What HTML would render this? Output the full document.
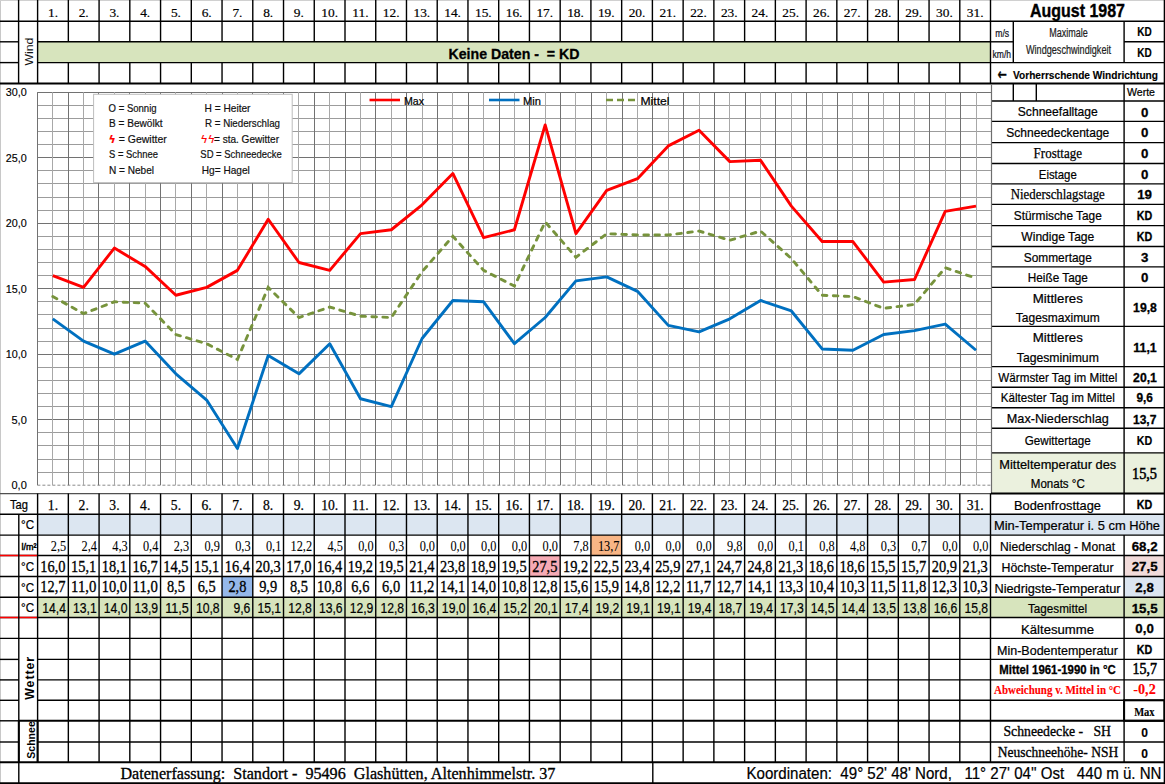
<!DOCTYPE html>
<html><head><meta charset="utf-8"><title>August 1987</title>
<style>html,body{margin:0;padding:0;background:#fff;}svg{display:block;}</style></head>
<body><svg width="1165" height="784" viewBox="0 0 1165 784">
<rect width="1165" height="784" fill="#fff"/>
<rect x="37.6" y="41.8" width="952.9" height="20.8" fill="#d7e4bd"/>
<rect x="37.6" y="514.2" width="952.94" height="20.9" fill="#dce6f1"/>
<rect x="990.5" y="514.2" width="173.9" height="20.9" fill="#dce6f1"/>
<rect x="37.6" y="597.3" width="1126.8" height="20.2" fill="#d7e4bd"/>
<rect x="590.92" y="535.1" width="30.74" height="20.4" fill="#f8b585"/>
<rect x="529.44" y="555.5" width="30.74" height="21" fill="#f6abb5"/>
<rect x="222.04" y="576.5" width="30.74" height="20.8" fill="#95b8ea"/>
<rect x="1124.1" y="555.5" width="40.3" height="21" fill="#f2dcdb"/>
<rect x="1124.1" y="576.5" width="40.3" height="20.8" fill="#dce6f1"/>
<rect x="991.5" y="452.9" width="172.9" height="40.5" fill="#ebf1de"/>
<line x1="37.4" y1="485.2" x2="991.4" y2="485.2" stroke="#8a8a8a" stroke-width="1" stroke-dasharray="3,2"/>
<line x1="37.4" y1="472.5" x2="991.4" y2="472.5" stroke="#9c9c9c" stroke-width="1.0"/>
<line x1="37.4" y1="459.5" x2="991.4" y2="459.5" stroke="#9c9c9c" stroke-width="1.0"/>
<line x1="37.4" y1="445.5" x2="991.4" y2="445.5" stroke="#9c9c9c" stroke-width="1.0"/>
<line x1="37.4" y1="432.5" x2="991.4" y2="432.5" stroke="#9c9c9c" stroke-width="1.0"/>
<line x1="37.4" y1="419.5" x2="991.4" y2="419.5" stroke="#727272" stroke-width="1.0"/>
<line x1="37.4" y1="406.5" x2="991.4" y2="406.5" stroke="#9c9c9c" stroke-width="1.0"/>
<line x1="37.4" y1="393.5" x2="991.4" y2="393.5" stroke="#9c9c9c" stroke-width="1.0"/>
<line x1="37.4" y1="380.5" x2="991.4" y2="380.5" stroke="#9c9c9c" stroke-width="1.0"/>
<line x1="37.4" y1="367.5" x2="991.4" y2="367.5" stroke="#9c9c9c" stroke-width="1.0"/>
<line x1="37.4" y1="354.5" x2="991.4" y2="354.5" stroke="#727272" stroke-width="1.0"/>
<line x1="37.4" y1="341.5" x2="991.4" y2="341.5" stroke="#9c9c9c" stroke-width="1.0"/>
<line x1="37.4" y1="328.5" x2="991.4" y2="328.5" stroke="#9c9c9c" stroke-width="1.0"/>
<line x1="37.4" y1="314.5" x2="991.4" y2="314.5" stroke="#9c9c9c" stroke-width="1.0"/>
<line x1="37.4" y1="301.5" x2="991.4" y2="301.5" stroke="#9c9c9c" stroke-width="1.0"/>
<line x1="37.4" y1="288.5" x2="991.4" y2="288.5" stroke="#727272" stroke-width="1.0"/>
<line x1="37.4" y1="275.5" x2="991.4" y2="275.5" stroke="#9c9c9c" stroke-width="1.0"/>
<line x1="37.4" y1="262.5" x2="991.4" y2="262.5" stroke="#9c9c9c" stroke-width="1.0"/>
<line x1="37.4" y1="249.5" x2="991.4" y2="249.5" stroke="#9c9c9c" stroke-width="1.0"/>
<line x1="37.4" y1="236.5" x2="991.4" y2="236.5" stroke="#9c9c9c" stroke-width="1.0"/>
<line x1="37.4" y1="223.5" x2="991.4" y2="223.5" stroke="#727272" stroke-width="1.0"/>
<line x1="37.4" y1="210.5" x2="991.4" y2="210.5" stroke="#9c9c9c" stroke-width="1.0"/>
<line x1="37.4" y1="197.5" x2="991.4" y2="197.5" stroke="#9c9c9c" stroke-width="1.0"/>
<line x1="37.4" y1="183.5" x2="991.4" y2="183.5" stroke="#9c9c9c" stroke-width="1.0"/>
<line x1="37.4" y1="170.5" x2="991.4" y2="170.5" stroke="#9c9c9c" stroke-width="1.0"/>
<line x1="37.4" y1="157.5" x2="991.4" y2="157.5" stroke="#727272" stroke-width="1.0"/>
<line x1="37.4" y1="144.5" x2="991.4" y2="144.5" stroke="#9c9c9c" stroke-width="1.0"/>
<line x1="37.4" y1="131.5" x2="991.4" y2="131.5" stroke="#9c9c9c" stroke-width="1.0"/>
<line x1="37.4" y1="118.5" x2="991.4" y2="118.5" stroke="#9c9c9c" stroke-width="1.0"/>
<line x1="37.4" y1="105.5" x2="991.4" y2="105.5" stroke="#9c9c9c" stroke-width="1.0"/>
<line x1="37.4" y1="92.5" x2="991.4" y2="92.5" stroke="#727272" stroke-width="1.0"/>
<line x1="37.5" y1="92.2" x2="37.5" y2="485.2" stroke="#727272" stroke-width="1.0"/>
<line x1="52.5" y1="92.2" x2="52.5" y2="485.2" stroke="#a8a8a8" stroke-width="1.0"/>
<line x1="68.5" y1="92.2" x2="68.5" y2="485.2" stroke="#727272" stroke-width="1.0"/>
<line x1="83.5" y1="92.2" x2="83.5" y2="485.2" stroke="#a8a8a8" stroke-width="1.0"/>
<line x1="98.5" y1="92.2" x2="98.5" y2="485.2" stroke="#727272" stroke-width="1.0"/>
<line x1="114.5" y1="92.2" x2="114.5" y2="485.2" stroke="#a8a8a8" stroke-width="1.0"/>
<line x1="129.5" y1="92.2" x2="129.5" y2="485.2" stroke="#727272" stroke-width="1.0"/>
<line x1="145.5" y1="92.2" x2="145.5" y2="485.2" stroke="#a8a8a8" stroke-width="1.0"/>
<line x1="160.5" y1="92.2" x2="160.5" y2="485.2" stroke="#727272" stroke-width="1.0"/>
<line x1="175.5" y1="92.2" x2="175.5" y2="485.2" stroke="#a8a8a8" stroke-width="1.0"/>
<line x1="191.5" y1="92.2" x2="191.5" y2="485.2" stroke="#727272" stroke-width="1.0"/>
<line x1="206.5" y1="92.2" x2="206.5" y2="485.2" stroke="#a8a8a8" stroke-width="1.0"/>
<line x1="222.5" y1="92.2" x2="222.5" y2="485.2" stroke="#727272" stroke-width="1.0"/>
<line x1="237.5" y1="92.2" x2="237.5" y2="485.2" stroke="#a8a8a8" stroke-width="1.0"/>
<line x1="252.5" y1="92.2" x2="252.5" y2="485.2" stroke="#727272" stroke-width="1.0"/>
<line x1="268.5" y1="92.2" x2="268.5" y2="485.2" stroke="#a8a8a8" stroke-width="1.0"/>
<line x1="283.5" y1="92.2" x2="283.5" y2="485.2" stroke="#727272" stroke-width="1.0"/>
<line x1="298.5" y1="92.2" x2="298.5" y2="485.2" stroke="#a8a8a8" stroke-width="1.0"/>
<line x1="314.5" y1="92.2" x2="314.5" y2="485.2" stroke="#727272" stroke-width="1.0"/>
<line x1="329.5" y1="92.2" x2="329.5" y2="485.2" stroke="#a8a8a8" stroke-width="1.0"/>
<line x1="345.5" y1="92.2" x2="345.5" y2="485.2" stroke="#727272" stroke-width="1.0"/>
<line x1="360.5" y1="92.2" x2="360.5" y2="485.2" stroke="#a8a8a8" stroke-width="1.0"/>
<line x1="375.5" y1="92.2" x2="375.5" y2="485.2" stroke="#727272" stroke-width="1.0"/>
<line x1="391.5" y1="92.2" x2="391.5" y2="485.2" stroke="#a8a8a8" stroke-width="1.0"/>
<line x1="406.5" y1="92.2" x2="406.5" y2="485.2" stroke="#727272" stroke-width="1.0"/>
<line x1="422.5" y1="92.2" x2="422.5" y2="485.2" stroke="#a8a8a8" stroke-width="1.0"/>
<line x1="437.5" y1="92.2" x2="437.5" y2="485.2" stroke="#727272" stroke-width="1.0"/>
<line x1="452.5" y1="92.2" x2="452.5" y2="485.2" stroke="#a8a8a8" stroke-width="1.0"/>
<line x1="468.5" y1="92.2" x2="468.5" y2="485.2" stroke="#727272" stroke-width="1.0"/>
<line x1="483.5" y1="92.2" x2="483.5" y2="485.2" stroke="#a8a8a8" stroke-width="1.0"/>
<line x1="499.5" y1="92.2" x2="499.5" y2="485.2" stroke="#727272" stroke-width="1.0"/>
<line x1="514.5" y1="92.2" x2="514.5" y2="485.2" stroke="#a8a8a8" stroke-width="1.0"/>
<line x1="529.5" y1="92.2" x2="529.5" y2="485.2" stroke="#727272" stroke-width="1.0"/>
<line x1="545.5" y1="92.2" x2="545.5" y2="485.2" stroke="#a8a8a8" stroke-width="1.0"/>
<line x1="560.5" y1="92.2" x2="560.5" y2="485.2" stroke="#727272" stroke-width="1.0"/>
<line x1="575.5" y1="92.2" x2="575.5" y2="485.2" stroke="#a8a8a8" stroke-width="1.0"/>
<line x1="591.5" y1="92.2" x2="591.5" y2="485.2" stroke="#727272" stroke-width="1.0"/>
<line x1="606.5" y1="92.2" x2="606.5" y2="485.2" stroke="#a8a8a8" stroke-width="1.0"/>
<line x1="622.5" y1="92.2" x2="622.5" y2="485.2" stroke="#727272" stroke-width="1.0"/>
<line x1="637.5" y1="92.2" x2="637.5" y2="485.2" stroke="#a8a8a8" stroke-width="1.0"/>
<line x1="652.5" y1="92.2" x2="652.5" y2="485.2" stroke="#727272" stroke-width="1.0"/>
<line x1="668.5" y1="92.2" x2="668.5" y2="485.2" stroke="#a8a8a8" stroke-width="1.0"/>
<line x1="683.5" y1="92.2" x2="683.5" y2="485.2" stroke="#727272" stroke-width="1.0"/>
<line x1="699.5" y1="92.2" x2="699.5" y2="485.2" stroke="#a8a8a8" stroke-width="1.0"/>
<line x1="714.5" y1="92.2" x2="714.5" y2="485.2" stroke="#727272" stroke-width="1.0"/>
<line x1="729.5" y1="92.2" x2="729.5" y2="485.2" stroke="#a8a8a8" stroke-width="1.0"/>
<line x1="745.5" y1="92.2" x2="745.5" y2="485.2" stroke="#727272" stroke-width="1.0"/>
<line x1="760.5" y1="92.2" x2="760.5" y2="485.2" stroke="#a8a8a8" stroke-width="1.0"/>
<line x1="775.5" y1="92.2" x2="775.5" y2="485.2" stroke="#727272" stroke-width="1.0"/>
<line x1="791.5" y1="92.2" x2="791.5" y2="485.2" stroke="#a8a8a8" stroke-width="1.0"/>
<line x1="806.5" y1="92.2" x2="806.5" y2="485.2" stroke="#727272" stroke-width="1.0"/>
<line x1="822.5" y1="92.2" x2="822.5" y2="485.2" stroke="#a8a8a8" stroke-width="1.0"/>
<line x1="837.5" y1="92.2" x2="837.5" y2="485.2" stroke="#727272" stroke-width="1.0"/>
<line x1="852.5" y1="92.2" x2="852.5" y2="485.2" stroke="#a8a8a8" stroke-width="1.0"/>
<line x1="868.5" y1="92.2" x2="868.5" y2="485.2" stroke="#727272" stroke-width="1.0"/>
<line x1="883.5" y1="92.2" x2="883.5" y2="485.2" stroke="#a8a8a8" stroke-width="1.0"/>
<line x1="899.5" y1="92.2" x2="899.5" y2="485.2" stroke="#727272" stroke-width="1.0"/>
<line x1="914.5" y1="92.2" x2="914.5" y2="485.2" stroke="#a8a8a8" stroke-width="1.0"/>
<line x1="929.5" y1="92.2" x2="929.5" y2="485.2" stroke="#727272" stroke-width="1.0"/>
<line x1="945.5" y1="92.2" x2="945.5" y2="485.2" stroke="#a8a8a8" stroke-width="1.0"/>
<line x1="960.5" y1="92.2" x2="960.5" y2="485.2" stroke="#727272" stroke-width="1.0"/>
<line x1="976.5" y1="92.2" x2="976.5" y2="485.2" stroke="#a8a8a8" stroke-width="1.0"/>
<line x1="991.5" y1="92.2" x2="991.5" y2="485.2" stroke="#727272" stroke-width="1.0"/>
<text x="26.8" y="489.4" font-family="'Liberation Sans', Arial, sans-serif" font-size="11.4" font-weight="normal" text-anchor="end" fill="#000" stroke="#000" stroke-width="0.15" textLength="15.3" lengthAdjust="spacingAndGlyphs">0,0</text>
<text x="26.8" y="423.9" font-family="'Liberation Sans', Arial, sans-serif" font-size="11.4" font-weight="normal" text-anchor="end" fill="#000" stroke="#000" stroke-width="0.15" textLength="15.3" lengthAdjust="spacingAndGlyphs">5,0</text>
<text x="26.8" y="358.4" font-family="'Liberation Sans', Arial, sans-serif" font-size="11.4" font-weight="normal" text-anchor="end" fill="#000" stroke="#000" stroke-width="0.15" textLength="21" lengthAdjust="spacingAndGlyphs">10,0</text>
<text x="26.8" y="292.9" font-family="'Liberation Sans', Arial, sans-serif" font-size="11.4" font-weight="normal" text-anchor="end" fill="#000" stroke="#000" stroke-width="0.15" textLength="21" lengthAdjust="spacingAndGlyphs">15,0</text>
<text x="26.8" y="227.4" font-family="'Liberation Sans', Arial, sans-serif" font-size="11.4" font-weight="normal" text-anchor="end" fill="#000" stroke="#000" stroke-width="0.15" textLength="21" lengthAdjust="spacingAndGlyphs">20,0</text>
<text x="26.8" y="161.9" font-family="'Liberation Sans', Arial, sans-serif" font-size="11.4" font-weight="normal" text-anchor="end" fill="#000" stroke="#000" stroke-width="0.15" textLength="21" lengthAdjust="spacingAndGlyphs">25,0</text>
<text x="26.8" y="96.4" font-family="'Liberation Sans', Arial, sans-serif" font-size="11.4" font-weight="normal" text-anchor="end" fill="#000" stroke="#000" stroke-width="0.15" textLength="21" lengthAdjust="spacingAndGlyphs">30,0</text>
<rect x="93.6" y="94.3" width="198.6" height="88.3" fill="#fff" stroke="#bdbdbd" stroke-width="1"/>
<polyline points="52.79,296.56 83.56,313.59 114.34,301.8 145.11,303.11 175.88,334.55 206.66,343.72 237.43,359.44 268.21,287.39 298.98,317.52 329.75,307.04 360.53,316.21 391.3,317.52 422.08,271.67 452.85,236.3 483.63,270.36 514.4,286.08 545.17,221.89 575.95,257.26 606.72,233.68 637.5,234.99 668.27,234.99 699.05,231.06 729.82,240.23 760.59,231.06 791.37,258.57 822.14,295.25 852.92,296.56 883.69,308.35 914.46,304.42 945.24,267.74 976.01,278.22" fill="none" stroke="#77933c" stroke-width="2.9" stroke-dasharray="4.6,6.4" stroke-linecap="round"/>
<polyline points="52.79,318.83 83.56,341.1 114.34,354.2 145.11,341.1 175.88,373.85 206.66,400.05 237.43,448.52 268.21,355.51 298.98,373.85 329.75,343.72 360.53,398.74 391.3,406.6 422.08,338.48 452.85,300.49 483.63,301.8 514.4,343.72 545.17,317.52 575.95,280.84 606.72,276.91 637.5,291.32 668.27,325.38 699.05,331.93 729.82,318.83 760.59,300.49 791.37,310.97 822.14,348.96 852.92,350.27 883.69,334.55 914.46,330.62 945.24,324.07 976.01,350.27" fill="none" stroke="#0070c0" stroke-width="2.9" stroke-linejoin="round"/>
<polyline points="52.79,275.6 83.56,287.39 114.34,248.09 145.11,266.43 175.88,295.25 206.66,287.39 237.43,270.36 268.21,219.27 298.98,262.5 329.75,270.36 360.53,233.68 391.3,229.75 422.08,204.86 452.85,173.42 483.63,237.61 514.4,229.75 545.17,124.95 575.95,233.68 606.72,190.45 637.5,178.66 668.27,145.91 699.05,130.19 729.82,161.63 760.59,160.32 791.37,206.17 822.14,241.54 852.92,241.54 883.69,282.15 914.46,279.53 945.24,211.41 976.01,206.17" fill="none" stroke="#ff0000" stroke-width="2.9" stroke-linejoin="round"/>
<line x1="369.5" y1="100" x2="400" y2="100" stroke="#ff0000" stroke-width="2.6"/>
<text x="404" y="104.5" font-family="'Liberation Sans', Arial, sans-serif" font-size="11" font-weight="normal" text-anchor="start" fill="#000" stroke="#000" stroke-width="0.22" textLength="20" lengthAdjust="spacingAndGlyphs">Max</text>
<line x1="489" y1="100" x2="519.5" y2="100" stroke="#0070c0" stroke-width="2.6"/>
<text x="523" y="104.5" font-family="'Liberation Sans', Arial, sans-serif" font-size="11" font-weight="normal" text-anchor="start" fill="#000" stroke="#000" stroke-width="0.22" textLength="18" lengthAdjust="spacingAndGlyphs">Min</text>
<line x1="606" y1="100" x2="636" y2="100" stroke="#77933c" stroke-width="2.6" stroke-dasharray="7,4"/>
<text x="640.5" y="104.5" font-family="'Liberation Sans', Arial, sans-serif" font-size="11" font-weight="normal" text-anchor="start" fill="#000" stroke="#000" stroke-width="0.22" textLength="29" lengthAdjust="spacingAndGlyphs">Mittel</text>
<text x="108.6" y="112.3" font-family="'Liberation Sans', Arial, sans-serif" font-size="11" font-weight="normal" text-anchor="start" fill="#111" stroke="#111" stroke-width="0.2" textLength="48" lengthAdjust="spacingAndGlyphs">O = Sonnig</text>
<text x="204.5" y="112.3" font-family="'Liberation Sans', Arial, sans-serif" font-size="11" font-weight="normal" text-anchor="start" fill="#111" stroke="#111" stroke-width="0.2" textLength="46" lengthAdjust="spacingAndGlyphs">H = Heiter</text>
<text x="109" y="127" font-family="'Liberation Sans', Arial, sans-serif" font-size="11" font-weight="normal" text-anchor="start" fill="#111" stroke="#111" stroke-width="0.2" textLength="53.5" lengthAdjust="spacingAndGlyphs">B = Bewölkt</text>
<text x="205" y="127" font-family="'Liberation Sans', Arial, sans-serif" font-size="11" font-weight="normal" text-anchor="start" fill="#111" stroke="#111" stroke-width="0.2" textLength="75" lengthAdjust="spacingAndGlyphs">R = Niederschlag</text>
<text x="118.8" y="143" font-family="'Liberation Sans', Arial, sans-serif" font-size="11" font-weight="normal" text-anchor="start" fill="#111" stroke="#111" stroke-width="0.2" textLength="48" lengthAdjust="spacingAndGlyphs">= Gewitter</text>
<text x="214" y="143" font-family="'Liberation Sans', Arial, sans-serif" font-size="11" font-weight="normal" text-anchor="start" fill="#111" stroke="#111" stroke-width="0.2" textLength="65" lengthAdjust="spacingAndGlyphs">= sta. Gewitter</text>
<text x="109" y="158" font-family="'Liberation Sans', Arial, sans-serif" font-size="11" font-weight="normal" text-anchor="start" fill="#111" stroke="#111" stroke-width="0.2" textLength="49" lengthAdjust="spacingAndGlyphs">S = Schnee</text>
<text x="200.3" y="158" font-family="'Liberation Sans', Arial, sans-serif" font-size="11" font-weight="normal" text-anchor="start" fill="#111" stroke="#111" stroke-width="0.2" textLength="81.5" lengthAdjust="spacingAndGlyphs">SD = Schneedecke</text>
<text x="109" y="174" font-family="'Liberation Sans', Arial, sans-serif" font-size="11" font-weight="normal" text-anchor="start" fill="#111" stroke="#111" stroke-width="0.2" textLength="45" lengthAdjust="spacingAndGlyphs">N = Nebel</text>
<text x="201.8" y="174" font-family="'Liberation Sans', Arial, sans-serif" font-size="11" font-weight="normal" text-anchor="start" fill="#111" stroke="#111" stroke-width="0.2" textLength="48" lengthAdjust="spacingAndGlyphs">Hg= Hagel</text>
<text x="108.5" y="143" font-family="'DejaVu Sans', sans-serif" font-size="11" font-weight="bold" text-anchor="start" fill="#ff0000" stroke="#ff0000" stroke-width="0.15">ϟ</text>
<text x="200.5" y="143" font-family="'DejaVu Sans', sans-serif" font-size="11" font-weight="normal" text-anchor="start" fill="#ff0000" stroke="#ff0000" stroke-width="0.22">ϟϟ</text>
<line x1="0.5" y1="0" x2="0.5" y2="784" stroke="#c8c8c8" stroke-width="1"/>
<line x1="0" y1="0.5" x2="1165" y2="0.5" stroke="#d0d0d0" stroke-width="1"/>
<line x1="0" y1="21.2" x2="1164.4" y2="21.2" stroke="#000" stroke-width="1.4"/>
<line x1="0" y1="62.6" x2="18.6" y2="62.6" stroke="#000" stroke-width="1.4"/>
<line x1="37.6" y1="62.6" x2="1164.4" y2="62.6" stroke="#000" stroke-width="1.4"/>
<line x1="0" y1="41.8" x2="18.6" y2="41.8" stroke="#000" stroke-width="1.4"/>
<line x1="37.6" y1="41.8" x2="990.5" y2="41.8" stroke="#000" stroke-width="1.4"/>
<line x1="990.5" y1="41.8" x2="1013.3" y2="41.8" stroke="#000" stroke-width="1.4"/>
<line x1="1124.1" y1="41.8" x2="1164.4" y2="41.8" stroke="#000" stroke-width="1.4"/>
<line x1="0" y1="83.6" x2="1164.4" y2="83.6" stroke="#000" stroke-width="2.0"/>
<line x1="18.6" y1="0" x2="18.6" y2="83.6" stroke="#000" stroke-width="1.4"/>
<line x1="37.6" y1="0" x2="37.6" y2="83.6" stroke="#000" stroke-width="1.4"/>
<line x1="68.34" y1="0" x2="68.34" y2="41.8" stroke="#000" stroke-width="1.4"/>
<line x1="68.34" y1="62.6" x2="68.34" y2="83.6" stroke="#000" stroke-width="1.4"/>
<line x1="99.08" y1="0" x2="99.08" y2="41.8" stroke="#000" stroke-width="1.4"/>
<line x1="99.08" y1="62.6" x2="99.08" y2="83.6" stroke="#000" stroke-width="1.4"/>
<line x1="129.82" y1="0" x2="129.82" y2="41.8" stroke="#000" stroke-width="1.4"/>
<line x1="129.82" y1="62.6" x2="129.82" y2="83.6" stroke="#000" stroke-width="1.4"/>
<line x1="160.56" y1="0" x2="160.56" y2="41.8" stroke="#000" stroke-width="1.4"/>
<line x1="160.56" y1="62.6" x2="160.56" y2="83.6" stroke="#000" stroke-width="1.4"/>
<line x1="191.3" y1="0" x2="191.3" y2="41.8" stroke="#000" stroke-width="1.4"/>
<line x1="191.3" y1="62.6" x2="191.3" y2="83.6" stroke="#000" stroke-width="1.4"/>
<line x1="222.04" y1="0" x2="222.04" y2="41.8" stroke="#000" stroke-width="1.4"/>
<line x1="222.04" y1="62.6" x2="222.04" y2="83.6" stroke="#000" stroke-width="1.4"/>
<line x1="252.78" y1="0" x2="252.78" y2="41.8" stroke="#000" stroke-width="1.4"/>
<line x1="252.78" y1="62.6" x2="252.78" y2="83.6" stroke="#000" stroke-width="1.4"/>
<line x1="283.52" y1="0" x2="283.52" y2="41.8" stroke="#000" stroke-width="1.4"/>
<line x1="283.52" y1="62.6" x2="283.52" y2="83.6" stroke="#000" stroke-width="1.4"/>
<line x1="314.26" y1="0" x2="314.26" y2="41.8" stroke="#000" stroke-width="1.4"/>
<line x1="314.26" y1="62.6" x2="314.26" y2="83.6" stroke="#000" stroke-width="1.4"/>
<line x1="345" y1="0" x2="345" y2="41.8" stroke="#000" stroke-width="1.4"/>
<line x1="345" y1="62.6" x2="345" y2="83.6" stroke="#000" stroke-width="1.4"/>
<line x1="375.74" y1="0" x2="375.74" y2="41.8" stroke="#000" stroke-width="1.4"/>
<line x1="375.74" y1="62.6" x2="375.74" y2="83.6" stroke="#000" stroke-width="1.4"/>
<line x1="406.48" y1="0" x2="406.48" y2="41.8" stroke="#000" stroke-width="1.4"/>
<line x1="406.48" y1="62.6" x2="406.48" y2="83.6" stroke="#000" stroke-width="1.4"/>
<line x1="437.22" y1="0" x2="437.22" y2="41.8" stroke="#000" stroke-width="1.4"/>
<line x1="437.22" y1="62.6" x2="437.22" y2="83.6" stroke="#000" stroke-width="1.4"/>
<line x1="467.96" y1="0" x2="467.96" y2="41.8" stroke="#000" stroke-width="1.4"/>
<line x1="467.96" y1="62.6" x2="467.96" y2="83.6" stroke="#000" stroke-width="1.4"/>
<line x1="498.7" y1="0" x2="498.7" y2="41.8" stroke="#000" stroke-width="1.4"/>
<line x1="498.7" y1="62.6" x2="498.7" y2="83.6" stroke="#000" stroke-width="1.4"/>
<line x1="529.44" y1="0" x2="529.44" y2="41.8" stroke="#000" stroke-width="1.4"/>
<line x1="529.44" y1="62.6" x2="529.44" y2="83.6" stroke="#000" stroke-width="1.4"/>
<line x1="560.18" y1="0" x2="560.18" y2="41.8" stroke="#000" stroke-width="1.4"/>
<line x1="560.18" y1="62.6" x2="560.18" y2="83.6" stroke="#000" stroke-width="1.4"/>
<line x1="590.92" y1="0" x2="590.92" y2="41.8" stroke="#000" stroke-width="1.4"/>
<line x1="590.92" y1="62.6" x2="590.92" y2="83.6" stroke="#000" stroke-width="1.4"/>
<line x1="621.66" y1="0" x2="621.66" y2="41.8" stroke="#000" stroke-width="1.4"/>
<line x1="621.66" y1="62.6" x2="621.66" y2="83.6" stroke="#000" stroke-width="1.4"/>
<line x1="652.4" y1="0" x2="652.4" y2="41.8" stroke="#000" stroke-width="1.4"/>
<line x1="652.4" y1="62.6" x2="652.4" y2="83.6" stroke="#000" stroke-width="1.4"/>
<line x1="683.14" y1="0" x2="683.14" y2="41.8" stroke="#000" stroke-width="1.4"/>
<line x1="683.14" y1="62.6" x2="683.14" y2="83.6" stroke="#000" stroke-width="1.4"/>
<line x1="713.88" y1="0" x2="713.88" y2="41.8" stroke="#000" stroke-width="1.4"/>
<line x1="713.88" y1="62.6" x2="713.88" y2="83.6" stroke="#000" stroke-width="1.4"/>
<line x1="744.62" y1="0" x2="744.62" y2="41.8" stroke="#000" stroke-width="1.4"/>
<line x1="744.62" y1="62.6" x2="744.62" y2="83.6" stroke="#000" stroke-width="1.4"/>
<line x1="775.36" y1="0" x2="775.36" y2="41.8" stroke="#000" stroke-width="1.4"/>
<line x1="775.36" y1="62.6" x2="775.36" y2="83.6" stroke="#000" stroke-width="1.4"/>
<line x1="806.1" y1="0" x2="806.1" y2="41.8" stroke="#000" stroke-width="1.4"/>
<line x1="806.1" y1="62.6" x2="806.1" y2="83.6" stroke="#000" stroke-width="1.4"/>
<line x1="836.84" y1="0" x2="836.84" y2="41.8" stroke="#000" stroke-width="1.4"/>
<line x1="836.84" y1="62.6" x2="836.84" y2="83.6" stroke="#000" stroke-width="1.4"/>
<line x1="867.58" y1="0" x2="867.58" y2="41.8" stroke="#000" stroke-width="1.4"/>
<line x1="867.58" y1="62.6" x2="867.58" y2="83.6" stroke="#000" stroke-width="1.4"/>
<line x1="898.32" y1="0" x2="898.32" y2="41.8" stroke="#000" stroke-width="1.4"/>
<line x1="898.32" y1="62.6" x2="898.32" y2="83.6" stroke="#000" stroke-width="1.4"/>
<line x1="929.06" y1="0" x2="929.06" y2="41.8" stroke="#000" stroke-width="1.4"/>
<line x1="929.06" y1="62.6" x2="929.06" y2="83.6" stroke="#000" stroke-width="1.4"/>
<line x1="959.8" y1="0" x2="959.8" y2="41.8" stroke="#000" stroke-width="1.4"/>
<line x1="959.8" y1="62.6" x2="959.8" y2="83.6" stroke="#000" stroke-width="1.4"/>
<line x1="990.5" y1="0" x2="990.5" y2="83.6" stroke="#000" stroke-width="1.4"/>
<line x1="1013.3" y1="21.2" x2="1013.3" y2="62.6" stroke="#000" stroke-width="1.4"/>
<line x1="1124.1" y1="21.2" x2="1124.1" y2="62.6" stroke="#000" stroke-width="1.4"/>
<line x1="1164.4" y1="0" x2="1164.4" y2="784" stroke="#000" stroke-width="1.4"/>
<line x1="991.5" y1="101" x2="1164.4" y2="101" stroke="#000" stroke-width="1.4"/>
<line x1="991.5" y1="121.4" x2="1164.4" y2="121.4" stroke="#000" stroke-width="1.4"/>
<line x1="991.5" y1="142.6" x2="1164.4" y2="142.6" stroke="#000" stroke-width="1.4"/>
<line x1="991.5" y1="163.5" x2="1164.4" y2="163.5" stroke="#000" stroke-width="1.4"/>
<line x1="991.5" y1="183.9" x2="1164.4" y2="183.9" stroke="#000" stroke-width="1.4"/>
<line x1="991.5" y1="204.4" x2="1164.4" y2="204.4" stroke="#000" stroke-width="1.4"/>
<line x1="991.5" y1="225.6" x2="1164.4" y2="225.6" stroke="#000" stroke-width="1.4"/>
<line x1="991.5" y1="246.5" x2="1164.4" y2="246.5" stroke="#000" stroke-width="1.4"/>
<line x1="991.5" y1="266.9" x2="1164.4" y2="266.9" stroke="#000" stroke-width="1.4"/>
<line x1="991.5" y1="287.4" x2="1164.4" y2="287.4" stroke="#000" stroke-width="1.4"/>
<line x1="991.5" y1="326.4" x2="1164.4" y2="326.4" stroke="#000" stroke-width="1.4"/>
<line x1="991.5" y1="366.6" x2="1164.4" y2="366.6" stroke="#000" stroke-width="1.4"/>
<line x1="991.5" y1="387.3" x2="1164.4" y2="387.3" stroke="#000" stroke-width="1.4"/>
<line x1="991.5" y1="407.7" x2="1164.4" y2="407.7" stroke="#000" stroke-width="1.4"/>
<line x1="991.5" y1="428.2" x2="1164.4" y2="428.2" stroke="#000" stroke-width="1.4"/>
<line x1="991.5" y1="452.9" x2="1164.4" y2="452.9" stroke="#000" stroke-width="1.4"/>
<line x1="991.5" y1="84.5" x2="991.5" y2="493" stroke="#6e6e6e" stroke-width="1.2"/>
<line x1="1124.1" y1="83.6" x2="1124.1" y2="493.6" stroke="#000" stroke-width="1.4"/>
<line x1="1013.3" y1="83.6" x2="1013.3" y2="101" stroke="#000" stroke-width="1.4"/>
<line x1="1036.3" y1="83.6" x2="1036.3" y2="101" stroke="#000" stroke-width="1.4"/>
<line x1="0" y1="493.6" x2="991" y2="493.6" stroke="#505050" stroke-width="1.3"/>
<line x1="991" y1="493.6" x2="1164.4" y2="493.6" stroke="#000" stroke-width="2.0"/>
<line x1="0" y1="514.2" x2="1164.4" y2="514.2" stroke="#000" stroke-width="1.4"/>
<line x1="0" y1="535.1" x2="1164.4" y2="535.1" stroke="#000" stroke-width="1.4"/>
<line x1="0" y1="555.5" x2="1164.4" y2="555.5" stroke="#000" stroke-width="1.4"/>
<line x1="0" y1="576.5" x2="1164.4" y2="576.5" stroke="#000" stroke-width="1.4"/>
<line x1="0" y1="597.3" x2="1164.4" y2="597.3" stroke="#000" stroke-width="1.4"/>
<line x1="0" y1="617.5" x2="1164.4" y2="617.5" stroke="#000" stroke-width="1.4"/>
<line x1="0" y1="638.4" x2="1164.4" y2="638.4" stroke="#000" stroke-width="1.4"/>
<line x1="0" y1="659.4" x2="18.8" y2="659.4" stroke="#000" stroke-width="1.4"/>
<line x1="37.6" y1="659.4" x2="1164.4" y2="659.4" stroke="#000" stroke-width="1.4"/>
<line x1="0" y1="679.9" x2="18.8" y2="679.9" stroke="#000" stroke-width="1.4"/>
<line x1="37.6" y1="679.9" x2="1164.4" y2="679.9" stroke="#000" stroke-width="1.4"/>
<line x1="0" y1="700.3" x2="18.8" y2="700.3" stroke="#000" stroke-width="1.4"/>
<line x1="37.6" y1="700.3" x2="1164.4" y2="700.3" stroke="#000" stroke-width="1.4"/>
<line x1="0" y1="720.8" x2="18.8" y2="720.8" stroke="#000" stroke-width="1.4"/>
<line x1="18.8" y1="720.8" x2="1164.4" y2="720.8" stroke="#000" stroke-width="2.0"/>
<line x1="0" y1="742" x2="18.8" y2="742" stroke="#000" stroke-width="1.4"/>
<line x1="37.6" y1="742" x2="1164.4" y2="742" stroke="#000" stroke-width="1.4"/>
<line x1="0" y1="762.2" x2="1164.4" y2="762.2" stroke="#000" stroke-width="2.0"/>
<line x1="0" y1="783.3" x2="1164.4" y2="783.3" stroke="#000" stroke-width="2.0"/>
<line x1="0" y1="555.5" x2="37.6" y2="555.5" stroke="#ff0000" stroke-width="1.4"/>
<line x1="0" y1="617.5" x2="37.6" y2="617.5" stroke="#ff0000" stroke-width="1.4"/>
<line x1="18.8" y1="514.2" x2="18.8" y2="784" stroke="#000" stroke-width="1.4"/>
<line x1="37.6" y1="493.6" x2="37.6" y2="762.2" stroke="#000" stroke-width="1.4"/>
<line x1="68.34" y1="493.6" x2="68.34" y2="762.2" stroke="#000" stroke-width="1.4"/>
<line x1="99.08" y1="493.6" x2="99.08" y2="762.2" stroke="#000" stroke-width="1.4"/>
<line x1="129.82" y1="493.6" x2="129.82" y2="762.2" stroke="#000" stroke-width="1.4"/>
<line x1="160.56" y1="493.6" x2="160.56" y2="762.2" stroke="#000" stroke-width="1.4"/>
<line x1="191.3" y1="493.6" x2="191.3" y2="762.2" stroke="#000" stroke-width="1.4"/>
<line x1="222.04" y1="493.6" x2="222.04" y2="762.2" stroke="#000" stroke-width="1.4"/>
<line x1="252.78" y1="493.6" x2="252.78" y2="762.2" stroke="#000" stroke-width="1.4"/>
<line x1="283.52" y1="493.6" x2="283.52" y2="762.2" stroke="#000" stroke-width="1.4"/>
<line x1="314.26" y1="493.6" x2="314.26" y2="762.2" stroke="#000" stroke-width="1.4"/>
<line x1="345" y1="493.6" x2="345" y2="762.2" stroke="#000" stroke-width="1.4"/>
<line x1="375.74" y1="493.6" x2="375.74" y2="762.2" stroke="#000" stroke-width="1.4"/>
<line x1="406.48" y1="493.6" x2="406.48" y2="762.2" stroke="#000" stroke-width="1.4"/>
<line x1="437.22" y1="493.6" x2="437.22" y2="762.2" stroke="#000" stroke-width="1.4"/>
<line x1="467.96" y1="493.6" x2="467.96" y2="762.2" stroke="#000" stroke-width="1.4"/>
<line x1="498.7" y1="493.6" x2="498.7" y2="762.2" stroke="#000" stroke-width="1.4"/>
<line x1="529.44" y1="493.6" x2="529.44" y2="762.2" stroke="#000" stroke-width="1.4"/>
<line x1="560.18" y1="493.6" x2="560.18" y2="762.2" stroke="#000" stroke-width="1.4"/>
<line x1="590.92" y1="493.6" x2="590.92" y2="762.2" stroke="#000" stroke-width="1.4"/>
<line x1="621.66" y1="493.6" x2="621.66" y2="762.2" stroke="#000" stroke-width="1.4"/>
<line x1="652.4" y1="493.6" x2="652.4" y2="762.2" stroke="#000" stroke-width="1.4"/>
<line x1="683.14" y1="493.6" x2="683.14" y2="762.2" stroke="#000" stroke-width="1.4"/>
<line x1="713.88" y1="493.6" x2="713.88" y2="762.2" stroke="#000" stroke-width="1.4"/>
<line x1="744.62" y1="493.6" x2="744.62" y2="762.2" stroke="#000" stroke-width="1.4"/>
<line x1="775.36" y1="493.6" x2="775.36" y2="762.2" stroke="#000" stroke-width="1.4"/>
<line x1="806.1" y1="493.6" x2="806.1" y2="762.2" stroke="#000" stroke-width="1.4"/>
<line x1="836.84" y1="493.6" x2="836.84" y2="762.2" stroke="#000" stroke-width="1.4"/>
<line x1="867.58" y1="493.6" x2="867.58" y2="762.2" stroke="#000" stroke-width="1.4"/>
<line x1="898.32" y1="493.6" x2="898.32" y2="762.2" stroke="#000" stroke-width="1.4"/>
<line x1="929.06" y1="493.6" x2="929.06" y2="762.2" stroke="#000" stroke-width="1.4"/>
<line x1="959.8" y1="493.6" x2="959.8" y2="762.2" stroke="#000" stroke-width="1.4"/>
<line x1="990.5" y1="493.6" x2="990.5" y2="762.2" stroke="#000" stroke-width="1.4"/>
<line x1="1124.1" y1="493.6" x2="1124.1" y2="514.2" stroke="#000" stroke-width="1.4"/>
<line x1="1124.1" y1="535.1" x2="1124.1" y2="720.8" stroke="#000" stroke-width="1.4"/>
<line x1="1124.1" y1="720.8" x2="1124.1" y2="762.2" stroke="#000" stroke-width="1.4"/>
<line x1="18.8" y1="720.8" x2="18.8" y2="762.2" stroke="#000" stroke-width="2.0"/>
<line x1="37.6" y1="720.8" x2="37.6" y2="762.2" stroke="#000" stroke-width="2.0"/>
<rect x="1124.1" y="700.3" width="40.3" height="20.5" fill="none" stroke="#000" stroke-width="2"/>
<line x1="652.8" y1="762.2" x2="652.8" y2="784" stroke="#000" stroke-width="1.4"/>
<text x="52.97" y="16.8" font-family="'Liberation Serif', 'Times New Roman', serif" font-size="13.4" font-weight="normal" text-anchor="middle" fill="#000" stroke="#000" stroke-width="0.2">1.</text>
<text x="52.97" y="509.9" font-family="'Liberation Serif', 'Times New Roman', serif" font-size="13.6" font-weight="normal" text-anchor="middle" fill="#000" stroke="#000" stroke-width="0.25">1.</text>
<text x="83.71" y="16.8" font-family="'Liberation Serif', 'Times New Roman', serif" font-size="13.4" font-weight="normal" text-anchor="middle" fill="#000" stroke="#000" stroke-width="0.2">2.</text>
<text x="83.71" y="509.9" font-family="'Liberation Serif', 'Times New Roman', serif" font-size="13.6" font-weight="normal" text-anchor="middle" fill="#000" stroke="#000" stroke-width="0.25">2.</text>
<text x="114.45" y="16.8" font-family="'Liberation Serif', 'Times New Roman', serif" font-size="13.4" font-weight="normal" text-anchor="middle" fill="#000" stroke="#000" stroke-width="0.2">3.</text>
<text x="114.45" y="509.9" font-family="'Liberation Serif', 'Times New Roman', serif" font-size="13.6" font-weight="normal" text-anchor="middle" fill="#000" stroke="#000" stroke-width="0.25">3.</text>
<text x="145.19" y="16.8" font-family="'Liberation Serif', 'Times New Roman', serif" font-size="13.4" font-weight="normal" text-anchor="middle" fill="#000" stroke="#000" stroke-width="0.2">4.</text>
<text x="145.19" y="509.9" font-family="'Liberation Serif', 'Times New Roman', serif" font-size="13.6" font-weight="normal" text-anchor="middle" fill="#000" stroke="#000" stroke-width="0.25">4.</text>
<text x="175.93" y="16.8" font-family="'Liberation Serif', 'Times New Roman', serif" font-size="13.4" font-weight="normal" text-anchor="middle" fill="#000" stroke="#000" stroke-width="0.2">5.</text>
<text x="175.93" y="509.9" font-family="'Liberation Serif', 'Times New Roman', serif" font-size="13.6" font-weight="normal" text-anchor="middle" fill="#000" stroke="#000" stroke-width="0.25">5.</text>
<text x="206.67" y="16.8" font-family="'Liberation Serif', 'Times New Roman', serif" font-size="13.4" font-weight="normal" text-anchor="middle" fill="#000" stroke="#000" stroke-width="0.2">6.</text>
<text x="206.67" y="509.9" font-family="'Liberation Serif', 'Times New Roman', serif" font-size="13.6" font-weight="normal" text-anchor="middle" fill="#000" stroke="#000" stroke-width="0.25">6.</text>
<text x="237.41" y="16.8" font-family="'Liberation Serif', 'Times New Roman', serif" font-size="13.4" font-weight="normal" text-anchor="middle" fill="#000" stroke="#000" stroke-width="0.2">7.</text>
<text x="237.41" y="509.9" font-family="'Liberation Serif', 'Times New Roman', serif" font-size="13.6" font-weight="normal" text-anchor="middle" fill="#000" stroke="#000" stroke-width="0.25">7.</text>
<text x="268.15" y="16.8" font-family="'Liberation Serif', 'Times New Roman', serif" font-size="13.4" font-weight="normal" text-anchor="middle" fill="#000" stroke="#000" stroke-width="0.2">8.</text>
<text x="268.15" y="509.9" font-family="'Liberation Serif', 'Times New Roman', serif" font-size="13.6" font-weight="normal" text-anchor="middle" fill="#000" stroke="#000" stroke-width="0.25">8.</text>
<text x="298.89" y="16.8" font-family="'Liberation Serif', 'Times New Roman', serif" font-size="13.4" font-weight="normal" text-anchor="middle" fill="#000" stroke="#000" stroke-width="0.2">9.</text>
<text x="298.89" y="509.9" font-family="'Liberation Serif', 'Times New Roman', serif" font-size="13.6" font-weight="normal" text-anchor="middle" fill="#000" stroke="#000" stroke-width="0.25">9.</text>
<text x="329.63" y="16.8" font-family="'Liberation Serif', 'Times New Roman', serif" font-size="13.4" font-weight="normal" text-anchor="middle" fill="#000" stroke="#000" stroke-width="0.2">10.</text>
<text x="329.63" y="509.9" font-family="'Liberation Serif', 'Times New Roman', serif" font-size="13.6" font-weight="normal" text-anchor="middle" fill="#000" stroke="#000" stroke-width="0.25">10.</text>
<text x="360.37" y="16.8" font-family="'Liberation Serif', 'Times New Roman', serif" font-size="13.4" font-weight="normal" text-anchor="middle" fill="#000" stroke="#000" stroke-width="0.2">11.</text>
<text x="360.37" y="509.9" font-family="'Liberation Serif', 'Times New Roman', serif" font-size="13.6" font-weight="normal" text-anchor="middle" fill="#000" stroke="#000" stroke-width="0.25">11.</text>
<text x="391.11" y="16.8" font-family="'Liberation Serif', 'Times New Roman', serif" font-size="13.4" font-weight="normal" text-anchor="middle" fill="#000" stroke="#000" stroke-width="0.2">12.</text>
<text x="391.11" y="509.9" font-family="'Liberation Serif', 'Times New Roman', serif" font-size="13.6" font-weight="normal" text-anchor="middle" fill="#000" stroke="#000" stroke-width="0.25">12.</text>
<text x="421.85" y="16.8" font-family="'Liberation Serif', 'Times New Roman', serif" font-size="13.4" font-weight="normal" text-anchor="middle" fill="#000" stroke="#000" stroke-width="0.2">13.</text>
<text x="421.85" y="509.9" font-family="'Liberation Serif', 'Times New Roman', serif" font-size="13.6" font-weight="normal" text-anchor="middle" fill="#000" stroke="#000" stroke-width="0.25">13.</text>
<text x="452.59" y="16.8" font-family="'Liberation Serif', 'Times New Roman', serif" font-size="13.4" font-weight="normal" text-anchor="middle" fill="#000" stroke="#000" stroke-width="0.2">14.</text>
<text x="452.59" y="509.9" font-family="'Liberation Serif', 'Times New Roman', serif" font-size="13.6" font-weight="normal" text-anchor="middle" fill="#000" stroke="#000" stroke-width="0.25">14.</text>
<text x="483.33" y="16.8" font-family="'Liberation Serif', 'Times New Roman', serif" font-size="13.4" font-weight="normal" text-anchor="middle" fill="#000" stroke="#000" stroke-width="0.2">15.</text>
<text x="483.33" y="509.9" font-family="'Liberation Serif', 'Times New Roman', serif" font-size="13.6" font-weight="normal" text-anchor="middle" fill="#000" stroke="#000" stroke-width="0.25">15.</text>
<text x="514.07" y="16.8" font-family="'Liberation Serif', 'Times New Roman', serif" font-size="13.4" font-weight="normal" text-anchor="middle" fill="#000" stroke="#000" stroke-width="0.2">16.</text>
<text x="514.07" y="509.9" font-family="'Liberation Serif', 'Times New Roman', serif" font-size="13.6" font-weight="normal" text-anchor="middle" fill="#000" stroke="#000" stroke-width="0.25">16.</text>
<text x="544.81" y="16.8" font-family="'Liberation Serif', 'Times New Roman', serif" font-size="13.4" font-weight="normal" text-anchor="middle" fill="#000" stroke="#000" stroke-width="0.2">17.</text>
<text x="544.81" y="509.9" font-family="'Liberation Serif', 'Times New Roman', serif" font-size="13.6" font-weight="normal" text-anchor="middle" fill="#000" stroke="#000" stroke-width="0.25">17.</text>
<text x="575.55" y="16.8" font-family="'Liberation Serif', 'Times New Roman', serif" font-size="13.4" font-weight="normal" text-anchor="middle" fill="#000" stroke="#000" stroke-width="0.2">18.</text>
<text x="575.55" y="509.9" font-family="'Liberation Serif', 'Times New Roman', serif" font-size="13.6" font-weight="normal" text-anchor="middle" fill="#000" stroke="#000" stroke-width="0.25">18.</text>
<text x="606.29" y="16.8" font-family="'Liberation Serif', 'Times New Roman', serif" font-size="13.4" font-weight="normal" text-anchor="middle" fill="#000" stroke="#000" stroke-width="0.2">19.</text>
<text x="606.29" y="509.9" font-family="'Liberation Serif', 'Times New Roman', serif" font-size="13.6" font-weight="normal" text-anchor="middle" fill="#000" stroke="#000" stroke-width="0.25">19.</text>
<text x="637.03" y="16.8" font-family="'Liberation Serif', 'Times New Roman', serif" font-size="13.4" font-weight="normal" text-anchor="middle" fill="#000" stroke="#000" stroke-width="0.2">20.</text>
<text x="637.03" y="509.9" font-family="'Liberation Serif', 'Times New Roman', serif" font-size="13.6" font-weight="normal" text-anchor="middle" fill="#000" stroke="#000" stroke-width="0.25">20.</text>
<text x="667.77" y="16.8" font-family="'Liberation Serif', 'Times New Roman', serif" font-size="13.4" font-weight="normal" text-anchor="middle" fill="#000" stroke="#000" stroke-width="0.2">21.</text>
<text x="667.77" y="509.9" font-family="'Liberation Serif', 'Times New Roman', serif" font-size="13.6" font-weight="normal" text-anchor="middle" fill="#000" stroke="#000" stroke-width="0.25">21.</text>
<text x="698.51" y="16.8" font-family="'Liberation Serif', 'Times New Roman', serif" font-size="13.4" font-weight="normal" text-anchor="middle" fill="#000" stroke="#000" stroke-width="0.2">22.</text>
<text x="698.51" y="509.9" font-family="'Liberation Serif', 'Times New Roman', serif" font-size="13.6" font-weight="normal" text-anchor="middle" fill="#000" stroke="#000" stroke-width="0.25">22.</text>
<text x="729.25" y="16.8" font-family="'Liberation Serif', 'Times New Roman', serif" font-size="13.4" font-weight="normal" text-anchor="middle" fill="#000" stroke="#000" stroke-width="0.2">23.</text>
<text x="729.25" y="509.9" font-family="'Liberation Serif', 'Times New Roman', serif" font-size="13.6" font-weight="normal" text-anchor="middle" fill="#000" stroke="#000" stroke-width="0.25">23.</text>
<text x="759.99" y="16.8" font-family="'Liberation Serif', 'Times New Roman', serif" font-size="13.4" font-weight="normal" text-anchor="middle" fill="#000" stroke="#000" stroke-width="0.2">24.</text>
<text x="759.99" y="509.9" font-family="'Liberation Serif', 'Times New Roman', serif" font-size="13.6" font-weight="normal" text-anchor="middle" fill="#000" stroke="#000" stroke-width="0.25">24.</text>
<text x="790.73" y="16.8" font-family="'Liberation Serif', 'Times New Roman', serif" font-size="13.4" font-weight="normal" text-anchor="middle" fill="#000" stroke="#000" stroke-width="0.2">25.</text>
<text x="790.73" y="509.9" font-family="'Liberation Serif', 'Times New Roman', serif" font-size="13.6" font-weight="normal" text-anchor="middle" fill="#000" stroke="#000" stroke-width="0.25">25.</text>
<text x="821.47" y="16.8" font-family="'Liberation Serif', 'Times New Roman', serif" font-size="13.4" font-weight="normal" text-anchor="middle" fill="#000" stroke="#000" stroke-width="0.2">26.</text>
<text x="821.47" y="509.9" font-family="'Liberation Serif', 'Times New Roman', serif" font-size="13.6" font-weight="normal" text-anchor="middle" fill="#000" stroke="#000" stroke-width="0.25">26.</text>
<text x="852.21" y="16.8" font-family="'Liberation Serif', 'Times New Roman', serif" font-size="13.4" font-weight="normal" text-anchor="middle" fill="#000" stroke="#000" stroke-width="0.2">27.</text>
<text x="852.21" y="509.9" font-family="'Liberation Serif', 'Times New Roman', serif" font-size="13.6" font-weight="normal" text-anchor="middle" fill="#000" stroke="#000" stroke-width="0.25">27.</text>
<text x="882.95" y="16.8" font-family="'Liberation Serif', 'Times New Roman', serif" font-size="13.4" font-weight="normal" text-anchor="middle" fill="#000" stroke="#000" stroke-width="0.2">28.</text>
<text x="882.95" y="509.9" font-family="'Liberation Serif', 'Times New Roman', serif" font-size="13.6" font-weight="normal" text-anchor="middle" fill="#000" stroke="#000" stroke-width="0.25">28.</text>
<text x="913.69" y="16.8" font-family="'Liberation Serif', 'Times New Roman', serif" font-size="13.4" font-weight="normal" text-anchor="middle" fill="#000" stroke="#000" stroke-width="0.2">29.</text>
<text x="913.69" y="509.9" font-family="'Liberation Serif', 'Times New Roman', serif" font-size="13.6" font-weight="normal" text-anchor="middle" fill="#000" stroke="#000" stroke-width="0.25">29.</text>
<text x="944.43" y="16.8" font-family="'Liberation Serif', 'Times New Roman', serif" font-size="13.4" font-weight="normal" text-anchor="middle" fill="#000" stroke="#000" stroke-width="0.2">30.</text>
<text x="944.43" y="509.9" font-family="'Liberation Serif', 'Times New Roman', serif" font-size="13.6" font-weight="normal" text-anchor="middle" fill="#000" stroke="#000" stroke-width="0.25">30.</text>
<text x="975.17" y="16.8" font-family="'Liberation Serif', 'Times New Roman', serif" font-size="13.4" font-weight="normal" text-anchor="middle" fill="#000" stroke="#000" stroke-width="0.2">31.</text>
<text x="975.17" y="509.9" font-family="'Liberation Serif', 'Times New Roman', serif" font-size="13.6" font-weight="normal" text-anchor="middle" fill="#000" stroke="#000" stroke-width="0.25">31.</text>
<text transform="translate(33.1,51.6) rotate(-90)" font-family="'Liberation Sans', Arial, sans-serif" font-size="11.8" text-anchor="middle" fill="#111" textLength="28" lengthAdjust="spacingAndGlyphs">Wind</text>
<text x="514" y="58.5" font-family="'Liberation Sans', Arial, sans-serif" font-size="15.2" font-weight="bold" text-anchor="middle" fill="#000" stroke="#000" stroke-width="0.3" textLength="131" lengthAdjust="spacingAndGlyphs" style="white-space:pre">Keine Daten -  = KD</text>
<text x="1077.5" y="17.2" font-family="'Liberation Sans', Arial, sans-serif" font-size="17.6" font-weight="bold" text-anchor="middle" fill="#000" stroke="#000" stroke-width="0.35" textLength="95" lengthAdjust="spacingAndGlyphs">August 1987</text>
<text x="1002.2" y="37.4" font-family="'Liberation Sans', Arial, sans-serif" font-size="10.5" font-weight="normal" text-anchor="middle" fill="#112" stroke="#112" stroke-width="0.22" textLength="14" lengthAdjust="spacingAndGlyphs">m/s</text>
<text x="1001.8" y="58.1" font-family="'Liberation Sans', Arial, sans-serif" font-size="10.8" font-weight="normal" text-anchor="middle" fill="#112" stroke="#112" stroke-width="0.22" textLength="18.5" lengthAdjust="spacingAndGlyphs">km/h</text>
<text x="1068.5" y="37.4" font-family="'Liberation Sans', Arial, sans-serif" font-size="12" font-weight="normal" text-anchor="middle" fill="#222" stroke="#222" stroke-width="0.22" textLength="38.5" lengthAdjust="spacingAndGlyphs">Maximale</text>
<text x="1068.5" y="54" font-family="'Liberation Sans', Arial, sans-serif" font-size="12" font-weight="normal" text-anchor="middle" fill="#222" stroke="#222" stroke-width="0.22" textLength="85" lengthAdjust="spacingAndGlyphs">Windgeschwindigkeit</text>
<text x="1144.5" y="36.3" font-family="'Liberation Sans', Arial, sans-serif" font-size="12" font-weight="bold" text-anchor="middle" fill="#000" stroke="#000" stroke-width="0.15" textLength="14.5" lengthAdjust="spacingAndGlyphs">KD</text>
<text x="1144.5" y="56.8" font-family="'Liberation Sans', Arial, sans-serif" font-size="12" font-weight="bold" text-anchor="middle" fill="#000" stroke="#000" stroke-width="0.15" textLength="14.5" lengthAdjust="spacingAndGlyphs">KD</text>
<text x="997.6" y="80.2" font-family="'DejaVu Sans', sans-serif" font-size="16" font-weight="normal" text-anchor="start" fill="#000" stroke="#000" stroke-width="0.5" textLength="9.2" lengthAdjust="spacingAndGlyphs">←</text>
<text x="1013" y="78.8" font-family="'Liberation Sans', Arial, sans-serif" font-size="11.6" font-weight="bold" text-anchor="start" fill="#000" stroke="#000" stroke-width="0.15" textLength="145" lengthAdjust="spacingAndGlyphs">Vorherrschende Windrichtung</text>
<text x="1141" y="95.5" font-family="'Liberation Sans', Arial, sans-serif" font-size="10.5" font-weight="normal" text-anchor="middle" fill="#000" stroke="#000" stroke-width="0.22" textLength="28" lengthAdjust="spacingAndGlyphs">Werte</text>
<text x="1057.8" y="116.1" font-family="'Liberation Sans', Arial, sans-serif" font-size="12.4" font-weight="normal" text-anchor="middle" fill="#000" stroke="#000" stroke-width="0.22" textLength="80" lengthAdjust="spacingAndGlyphs">Schneefalltage</text>
<text x="1144.6" y="116.5" font-family="'Liberation Sans', Arial, sans-serif" font-size="13.3" font-weight="bold" text-anchor="middle" fill="#000" stroke="#000" stroke-width="0.3">0</text>
<text x="1057.8" y="136.9" font-family="'Liberation Sans', Arial, sans-serif" font-size="12.4" font-weight="normal" text-anchor="middle" fill="#000" stroke="#000" stroke-width="0.22" textLength="103" lengthAdjust="spacingAndGlyphs">Schneedeckentage</text>
<text x="1144.6" y="137.3" font-family="'Liberation Sans', Arial, sans-serif" font-size="13.3" font-weight="bold" text-anchor="middle" fill="#000" stroke="#000" stroke-width="0.3">0</text>
<text x="1057.8" y="158.25" font-family="'Liberation Serif', 'Times New Roman', serif" font-size="13.8" font-weight="normal" text-anchor="middle" fill="#000" stroke="#000" stroke-width="0.25" textLength="48.4" lengthAdjust="spacingAndGlyphs">Frosttage</text>
<text x="1144.6" y="158.35" font-family="'Liberation Sans', Arial, sans-serif" font-size="13.3" font-weight="bold" text-anchor="middle" fill="#000" stroke="#000" stroke-width="0.3">0</text>
<text x="1057.8" y="178.6" font-family="'Liberation Sans', Arial, sans-serif" font-size="12.4" font-weight="normal" text-anchor="middle" fill="#000" stroke="#000" stroke-width="0.22" textLength="38" lengthAdjust="spacingAndGlyphs">Eistage</text>
<text x="1144.6" y="179" font-family="'Liberation Sans', Arial, sans-serif" font-size="13.3" font-weight="bold" text-anchor="middle" fill="#000" stroke="#000" stroke-width="0.3">0</text>
<text x="1057.8" y="199.35" font-family="'Liberation Serif', 'Times New Roman', serif" font-size="13.8" font-weight="normal" text-anchor="middle" fill="#000" stroke="#000" stroke-width="0.25" textLength="94" lengthAdjust="spacingAndGlyphs">Niederschlagstage</text>
<text x="1144.6" y="199.45" font-family="'Liberation Sans', Arial, sans-serif" font-size="13.3" font-weight="bold" text-anchor="middle" fill="#000" stroke="#000" stroke-width="0.3">19</text>
<text x="1057.8" y="219.9" font-family="'Liberation Sans', Arial, sans-serif" font-size="12.4" font-weight="normal" text-anchor="middle" fill="#000" stroke="#000" stroke-width="0.22" textLength="88" lengthAdjust="spacingAndGlyphs">Stürmische Tage</text>
<text x="1144.6" y="220.3" font-family="'Liberation Sans', Arial, sans-serif" font-size="13.3" font-weight="bold" text-anchor="middle" fill="#000" stroke="#000" stroke-width="0.3" textLength="15.5" lengthAdjust="spacingAndGlyphs">KD</text>
<text x="1057.8" y="240.95" font-family="'Liberation Sans', Arial, sans-serif" font-size="12.4" font-weight="normal" text-anchor="middle" fill="#000" stroke="#000" stroke-width="0.22" textLength="73" lengthAdjust="spacingAndGlyphs">Windige Tage</text>
<text x="1144.6" y="241.35" font-family="'Liberation Sans', Arial, sans-serif" font-size="13.3" font-weight="bold" text-anchor="middle" fill="#000" stroke="#000" stroke-width="0.3" textLength="15.5" lengthAdjust="spacingAndGlyphs">KD</text>
<text x="1057.8" y="261.6" font-family="'Liberation Sans', Arial, sans-serif" font-size="12.4" font-weight="normal" text-anchor="middle" fill="#000" stroke="#000" stroke-width="0.22" textLength="68" lengthAdjust="spacingAndGlyphs">Sommertage</text>
<text x="1144.6" y="262" font-family="'Liberation Sans', Arial, sans-serif" font-size="13.3" font-weight="bold" text-anchor="middle" fill="#000" stroke="#000" stroke-width="0.3">3</text>
<text x="1057.8" y="282.05" font-family="'Liberation Sans', Arial, sans-serif" font-size="12.4" font-weight="normal" text-anchor="middle" fill="#000" stroke="#000" stroke-width="0.22" textLength="60" lengthAdjust="spacingAndGlyphs">Heiße Tage</text>
<text x="1144.6" y="282.45" font-family="'Liberation Sans', Arial, sans-serif" font-size="13.3" font-weight="bold" text-anchor="middle" fill="#000" stroke="#000" stroke-width="0.3">0</text>
<text x="1057.8" y="302.5" font-family="'Liberation Sans', Arial, sans-serif" font-size="12.2" font-weight="normal" text-anchor="middle" fill="#000" stroke="#000" stroke-width="0.22" textLength="50" lengthAdjust="spacingAndGlyphs">Mittleres</text>
<text x="1057.8" y="322" font-family="'Liberation Sans', Arial, sans-serif" font-size="12.2" font-weight="normal" text-anchor="middle" fill="#000" stroke="#000" stroke-width="0.22" textLength="84" lengthAdjust="spacingAndGlyphs">Tagesmaximum</text>
<text x="1145" y="312" font-family="'Liberation Sans', Arial, sans-serif" font-size="12.8" font-weight="bold" text-anchor="middle" fill="#000" stroke="#000" stroke-width="0.3" textLength="23.8" lengthAdjust="spacingAndGlyphs">19,8</text>
<text x="1057.8" y="342" font-family="'Liberation Sans', Arial, sans-serif" font-size="12.2" font-weight="normal" text-anchor="middle" fill="#000" stroke="#000" stroke-width="0.22" textLength="50" lengthAdjust="spacingAndGlyphs">Mittleres</text>
<text x="1057.8" y="361.5" font-family="'Liberation Sans', Arial, sans-serif" font-size="12.2" font-weight="normal" text-anchor="middle" fill="#000" stroke="#000" stroke-width="0.22" textLength="82" lengthAdjust="spacingAndGlyphs">Tagesminimum</text>
<text x="1145" y="352" font-family="'Liberation Sans', Arial, sans-serif" font-size="12.8" font-weight="bold" text-anchor="middle" fill="#000" stroke="#000" stroke-width="0.3" textLength="23.5" lengthAdjust="spacingAndGlyphs">11,1</text>
<text x="1057.8" y="381.6" font-family="'Liberation Sans', Arial, sans-serif" font-size="13" font-weight="normal" text-anchor="middle" fill="#000" stroke="#000" stroke-width="0.22" textLength="119" lengthAdjust="spacingAndGlyphs">Wärmster Tag im Mittel</text>
<text x="1145" y="382" font-family="'Liberation Sans', Arial, sans-serif" font-size="12.8" font-weight="bold" text-anchor="middle" fill="#000" stroke="#000" stroke-width="0.3" textLength="23.8" lengthAdjust="spacingAndGlyphs">20,1</text>
<text x="1057.8" y="401.6" font-family="'Liberation Sans', Arial, sans-serif" font-size="13" font-weight="normal" text-anchor="middle" fill="#000" stroke="#000" stroke-width="0.22" textLength="114" lengthAdjust="spacingAndGlyphs">Kältester Tag im Mittel</text>
<text x="1144.7" y="402.3" font-family="'Liberation Sans', Arial, sans-serif" font-size="12.8" font-weight="bold" text-anchor="middle" fill="#000" stroke="#000" stroke-width="0.3" textLength="16.5" lengthAdjust="spacingAndGlyphs">9,6</text>
<text x="1057.8" y="422.8" font-family="'Liberation Sans', Arial, sans-serif" font-size="13.5" font-weight="normal" text-anchor="middle" fill="#000" stroke="#000" stroke-width="0.22" textLength="102" lengthAdjust="spacingAndGlyphs">Max-Niederschlag</text>
<text x="1144.7" y="423.5" font-family="'Liberation Sans', Arial, sans-serif" font-size="12.8" font-weight="bold" text-anchor="middle" fill="#000" stroke="#000" stroke-width="0.3" textLength="23.5" lengthAdjust="spacingAndGlyphs">13,7</text>
<text x="1057.8" y="445.2" font-family="'Liberation Sans', Arial, sans-serif" font-size="12.8" font-weight="normal" text-anchor="middle" fill="#000" stroke="#000" stroke-width="0.22" textLength="66" lengthAdjust="spacingAndGlyphs">Gewittertage</text>
<text x="1144.5" y="445.2" font-family="'Liberation Sans', Arial, sans-serif" font-size="12.6" font-weight="bold" text-anchor="middle" fill="#000" stroke="#000" stroke-width="0.15" textLength="15.5" lengthAdjust="spacingAndGlyphs">KD</text>
<text x="1057.8" y="469.2" font-family="'Liberation Sans', Arial, sans-serif" font-size="12.4" font-weight="normal" text-anchor="middle" fill="#000" stroke="#000" stroke-width="0.22" textLength="117" lengthAdjust="spacingAndGlyphs">Mitteltemperatur des</text>
<text x="1057.8" y="488" font-family="'Liberation Sans', Arial, sans-serif" font-size="12.4" font-weight="normal" text-anchor="middle" fill="#000" stroke="#000" stroke-width="0.22" textLength="54" lengthAdjust="spacingAndGlyphs">Monats °C</text>
<text x="1144.5" y="479" font-family="'Liberation Serif', 'Times New Roman', serif" font-size="15.8" font-weight="normal" text-anchor="middle" fill="#000" stroke="#000" stroke-width="0.55" textLength="25" lengthAdjust="spacingAndGlyphs">15,5</text>
<text x="1057.5" y="509.5" font-family="'Liberation Sans', Arial, sans-serif" font-size="13.2" font-weight="normal" text-anchor="middle" fill="#000" stroke="#000" stroke-width="0.22" textLength="87" lengthAdjust="spacingAndGlyphs">Bodenfrosttage</text>
<text x="1144.6" y="509.2" font-family="'Liberation Sans', Arial, sans-serif" font-size="13.3" font-weight="bold" text-anchor="middle" fill="#000" stroke="#000" stroke-width="0.3" textLength="15.5" lengthAdjust="spacingAndGlyphs">KD</text>
<text x="1057.5" y="550.9" font-family="'Liberation Sans', Arial, sans-serif" font-size="13.2" font-weight="normal" text-anchor="middle" fill="#000" stroke="#000" stroke-width="0.22" textLength="115" lengthAdjust="spacingAndGlyphs">Niederschlag - Monat</text>
<text x="1144.6" y="550.6" font-family="'Liberation Sans', Arial, sans-serif" font-size="13.3" font-weight="bold" text-anchor="middle" fill="#000" stroke="#000" stroke-width="0.3">68,2</text>
<text x="1057.5" y="571.6" font-family="'Liberation Sans', Arial, sans-serif" font-size="13.2" font-weight="normal" text-anchor="middle" fill="#000" stroke="#000" stroke-width="0.22" textLength="112" lengthAdjust="spacingAndGlyphs">Höchste-Temperatur</text>
<text x="1144.6" y="571.3" font-family="'Liberation Sans', Arial, sans-serif" font-size="13.3" font-weight="bold" text-anchor="middle" fill="#000" stroke="#000" stroke-width="0.3">27,5</text>
<text x="1057.5" y="592.5" font-family="'Liberation Sans', Arial, sans-serif" font-size="13.2" font-weight="normal" text-anchor="middle" fill="#000" stroke="#000" stroke-width="0.22" textLength="126" lengthAdjust="spacingAndGlyphs">Niedrigste-Temperatur</text>
<text x="1144.6" y="592.2" font-family="'Liberation Sans', Arial, sans-serif" font-size="13.3" font-weight="bold" text-anchor="middle" fill="#000" stroke="#000" stroke-width="0.3">2,8</text>
<text x="1057.5" y="613" font-family="'Liberation Sans', Arial, sans-serif" font-size="13.2" font-weight="normal" text-anchor="middle" fill="#000" stroke="#000" stroke-width="0.22" textLength="59" lengthAdjust="spacingAndGlyphs">Tagesmittel</text>
<text x="1144.6" y="612.7" font-family="'Liberation Sans', Arial, sans-serif" font-size="13.3" font-weight="bold" text-anchor="middle" fill="#000" stroke="#000" stroke-width="0.3">15,5</text>
<text x="1057.5" y="633.55" font-family="'Liberation Sans', Arial, sans-serif" font-size="13.2" font-weight="normal" text-anchor="middle" fill="#000" stroke="#000" stroke-width="0.22" textLength="73" lengthAdjust="spacingAndGlyphs">Kältesumme</text>
<text x="1144.6" y="633.25" font-family="'Liberation Sans', Arial, sans-serif" font-size="13.3" font-weight="bold" text-anchor="middle" fill="#000" stroke="#000" stroke-width="0.3">0,0</text>
<text x="1057.5" y="654.5" font-family="'Liberation Sans', Arial, sans-serif" font-size="13.2" font-weight="normal" text-anchor="middle" fill="#000" stroke="#000" stroke-width="0.22" textLength="121" lengthAdjust="spacingAndGlyphs">Min-Bodentemperatur</text>
<text x="1144.6" y="654.2" font-family="'Liberation Sans', Arial, sans-serif" font-size="13.3" font-weight="bold" text-anchor="middle" fill="#000" stroke="#000" stroke-width="0.3" textLength="15.5" lengthAdjust="spacingAndGlyphs">KD</text>
<text x="1077" y="530.3" font-family="'Liberation Sans', Arial, sans-serif" font-size="12.9" font-weight="normal" text-anchor="middle" fill="#000" stroke="#000" stroke-width="0.22" textLength="166" lengthAdjust="spacingAndGlyphs">Min-Temperatur i. 5 cm Höhe</text>
<text x="1057.5" y="674.3" font-family="'Liberation Sans', Arial, sans-serif" font-size="12.8" font-weight="bold" text-anchor="middle" fill="#000" stroke="#000" stroke-width="0.3" textLength="116.5" lengthAdjust="spacingAndGlyphs">Mittel 1961-1990 in °C</text>
<text x="1144.8" y="674.4" font-family="'Liberation Serif', 'Times New Roman', serif" font-size="15.8" font-weight="normal" text-anchor="middle" fill="#000" stroke="#000" stroke-width="0.55" textLength="24.5" lengthAdjust="spacingAndGlyphs">15,7</text>
<text x="1057.5" y="693.8" font-family="'Liberation Serif', 'Times New Roman', serif" font-size="13.2" font-weight="bold" text-anchor="middle" fill="#ff0000" stroke="#ff0000" stroke-width="0.15" textLength="127" lengthAdjust="spacingAndGlyphs">Abweichung v. Mittel in °C</text>
<text x="1144.5" y="694" font-family="'Liberation Serif', 'Times New Roman', serif" font-size="15" font-weight="bold" text-anchor="middle" fill="#ff0000" stroke="#ff0000" stroke-width="0.15" textLength="22.5" lengthAdjust="spacingAndGlyphs">-0,2</text>
<text x="1144.4" y="716" font-family="'Liberation Serif', 'Times New Roman', serif" font-size="12.5" font-weight="bold" text-anchor="middle" fill="#000" stroke="#000" stroke-width="0.15" textLength="20.5" lengthAdjust="spacingAndGlyphs">Max</text>
<text x="1057.2" y="736.2" font-family="'Liberation Serif', 'Times New Roman', serif" font-size="14.5" font-weight="normal" text-anchor="middle" fill="#000" stroke="#000" stroke-width="0.32" textLength="107.5" lengthAdjust="spacingAndGlyphs" style="white-space:pre">Schneedecke -   SH</text>
<text x="1144.6" y="737.3" font-family="'Liberation Sans', Arial, sans-serif" font-size="12" font-weight="bold" text-anchor="middle" fill="#000" stroke="#000" stroke-width="0.15">0</text>
<text x="1058" y="756.7" font-family="'Liberation Serif', 'Times New Roman', serif" font-size="14.5" font-weight="normal" text-anchor="middle" fill="#000" stroke="#000" stroke-width="0.32" textLength="120.5" lengthAdjust="spacingAndGlyphs">Neuschneehöhe- NSH</text>
<text x="1144.6" y="757.5" font-family="'Liberation Sans', Arial, sans-serif" font-size="12" font-weight="bold" text-anchor="middle" fill="#000" stroke="#000" stroke-width="0.15">0</text>
<text x="19" y="509" font-family="'Liberation Sans', Arial, sans-serif" font-size="12.2" font-weight="normal" text-anchor="middle" fill="#000" stroke="#000" stroke-width="0.22" textLength="18" lengthAdjust="spacingAndGlyphs">Tag</text>
<text x="21" y="529.25" font-family="'Liberation Sans', Arial, sans-serif" font-size="12.2" font-weight="normal" text-anchor="start" fill="#000" stroke="#000" stroke-width="0.22" textLength="13" lengthAdjust="spacingAndGlyphs">°C</text>
<text x="21" y="570.6" font-family="'Liberation Sans', Arial, sans-serif" font-size="12.2" font-weight="normal" text-anchor="start" fill="#000" stroke="#000" stroke-width="0.22" textLength="13" lengthAdjust="spacingAndGlyphs">°C</text>
<text x="21" y="591.5" font-family="'Liberation Sans', Arial, sans-serif" font-size="12.2" font-weight="normal" text-anchor="start" fill="#000" stroke="#000" stroke-width="0.22" textLength="13" lengthAdjust="spacingAndGlyphs">°C</text>
<text x="21" y="612" font-family="'Liberation Sans', Arial, sans-serif" font-size="12.2" font-weight="normal" text-anchor="start" fill="#000" stroke="#000" stroke-width="0.22" textLength="13" lengthAdjust="spacingAndGlyphs">°C</text>
<text x="21.5" y="549.8" font-family="'Liberation Sans', Arial, sans-serif" font-size="9" font-weight="normal" text-anchor="start" fill="#000" stroke="#000" stroke-width="0.45" textLength="15" lengthAdjust="spacingAndGlyphs">l/m²</text>
<text x="66.14" y="551" font-family="'Liberation Serif', 'Times New Roman', serif" font-size="15" font-weight="normal" text-anchor="end" fill="#000" stroke="#000" stroke-width="0.08" textLength="15.38" lengthAdjust="spacingAndGlyphs">2,5</text>
<text x="52.97" y="571.5" font-family="'Liberation Serif', 'Times New Roman', serif" font-size="15.9" font-weight="normal" text-anchor="middle" fill="#000" stroke="#000" stroke-width="0.32" textLength="25.2" lengthAdjust="spacingAndGlyphs">16,0</text>
<text x="52.97" y="592.3" font-family="'Liberation Serif', 'Times New Roman', serif" font-size="15.9" font-weight="normal" text-anchor="middle" fill="#000" stroke="#000" stroke-width="0.32" textLength="25.2" lengthAdjust="spacingAndGlyphs">12,7</text>
<text x="65.94" y="613.3" font-family="'Liberation Sans', Arial, sans-serif" font-size="14.8" font-weight="normal" text-anchor="end" fill="#000" stroke="#000" stroke-width="0.22" textLength="23.7" lengthAdjust="spacingAndGlyphs">14,4</text>
<text x="96.88" y="551" font-family="'Liberation Serif', 'Times New Roman', serif" font-size="15" font-weight="normal" text-anchor="end" fill="#000" stroke="#000" stroke-width="0.08" textLength="15.38" lengthAdjust="spacingAndGlyphs">2,4</text>
<text x="83.71" y="571.5" font-family="'Liberation Serif', 'Times New Roman', serif" font-size="15.9" font-weight="normal" text-anchor="middle" fill="#000" stroke="#000" stroke-width="0.32" textLength="25.2" lengthAdjust="spacingAndGlyphs">15,1</text>
<text x="83.71" y="592.3" font-family="'Liberation Serif', 'Times New Roman', serif" font-size="15.9" font-weight="normal" text-anchor="middle" fill="#000" stroke="#000" stroke-width="0.32" textLength="25.2" lengthAdjust="spacingAndGlyphs">11,0</text>
<text x="96.68" y="613.3" font-family="'Liberation Sans', Arial, sans-serif" font-size="14.8" font-weight="normal" text-anchor="end" fill="#000" stroke="#000" stroke-width="0.22" textLength="23.7" lengthAdjust="spacingAndGlyphs">13,1</text>
<text x="127.62" y="551" font-family="'Liberation Serif', 'Times New Roman', serif" font-size="15" font-weight="normal" text-anchor="end" fill="#000" stroke="#000" stroke-width="0.08" textLength="15.38" lengthAdjust="spacingAndGlyphs">4,3</text>
<text x="114.45" y="571.5" font-family="'Liberation Serif', 'Times New Roman', serif" font-size="15.9" font-weight="normal" text-anchor="middle" fill="#000" stroke="#000" stroke-width="0.32" textLength="25.2" lengthAdjust="spacingAndGlyphs">18,1</text>
<text x="114.45" y="592.3" font-family="'Liberation Serif', 'Times New Roman', serif" font-size="15.9" font-weight="normal" text-anchor="middle" fill="#000" stroke="#000" stroke-width="0.32" textLength="25.2" lengthAdjust="spacingAndGlyphs">10,0</text>
<text x="127.42" y="613.3" font-family="'Liberation Sans', Arial, sans-serif" font-size="14.8" font-weight="normal" text-anchor="end" fill="#000" stroke="#000" stroke-width="0.22" textLength="23.7" lengthAdjust="spacingAndGlyphs">14,0</text>
<text x="158.36" y="551" font-family="'Liberation Serif', 'Times New Roman', serif" font-size="15" font-weight="normal" text-anchor="end" fill="#000" stroke="#000" stroke-width="0.08" textLength="15.38" lengthAdjust="spacingAndGlyphs">0,4</text>
<text x="145.19" y="571.5" font-family="'Liberation Serif', 'Times New Roman', serif" font-size="15.9" font-weight="normal" text-anchor="middle" fill="#000" stroke="#000" stroke-width="0.32" textLength="25.2" lengthAdjust="spacingAndGlyphs">16,7</text>
<text x="145.19" y="592.3" font-family="'Liberation Serif', 'Times New Roman', serif" font-size="15.9" font-weight="normal" text-anchor="middle" fill="#000" stroke="#000" stroke-width="0.32" textLength="25.2" lengthAdjust="spacingAndGlyphs">11,0</text>
<text x="158.16" y="613.3" font-family="'Liberation Sans', Arial, sans-serif" font-size="14.8" font-weight="normal" text-anchor="end" fill="#000" stroke="#000" stroke-width="0.22" textLength="23.7" lengthAdjust="spacingAndGlyphs">13,9</text>
<text x="189.1" y="551" font-family="'Liberation Serif', 'Times New Roman', serif" font-size="15" font-weight="normal" text-anchor="end" fill="#000" stroke="#000" stroke-width="0.08" textLength="15.38" lengthAdjust="spacingAndGlyphs">2,3</text>
<text x="175.93" y="571.5" font-family="'Liberation Serif', 'Times New Roman', serif" font-size="15.9" font-weight="normal" text-anchor="middle" fill="#000" stroke="#000" stroke-width="0.32" textLength="25.2" lengthAdjust="spacingAndGlyphs">14,5</text>
<text x="175.93" y="592.3" font-family="'Liberation Serif', 'Times New Roman', serif" font-size="15.9" font-weight="normal" text-anchor="middle" fill="#000" stroke="#000" stroke-width="0.32" textLength="18" lengthAdjust="spacingAndGlyphs">8,5</text>
<text x="188.9" y="613.3" font-family="'Liberation Sans', Arial, sans-serif" font-size="14.8" font-weight="normal" text-anchor="end" fill="#000" stroke="#000" stroke-width="0.22" textLength="23.7" lengthAdjust="spacingAndGlyphs">11,5</text>
<text x="219.84" y="551" font-family="'Liberation Serif', 'Times New Roman', serif" font-size="15" font-weight="normal" text-anchor="end" fill="#000" stroke="#000" stroke-width="0.08" textLength="15.38" lengthAdjust="spacingAndGlyphs">0,9</text>
<text x="206.67" y="571.5" font-family="'Liberation Serif', 'Times New Roman', serif" font-size="15.9" font-weight="normal" text-anchor="middle" fill="#000" stroke="#000" stroke-width="0.32" textLength="25.2" lengthAdjust="spacingAndGlyphs">15,1</text>
<text x="206.67" y="592.3" font-family="'Liberation Serif', 'Times New Roman', serif" font-size="15.9" font-weight="normal" text-anchor="middle" fill="#000" stroke="#000" stroke-width="0.32" textLength="18" lengthAdjust="spacingAndGlyphs">6,5</text>
<text x="219.64" y="613.3" font-family="'Liberation Sans', Arial, sans-serif" font-size="14.8" font-weight="normal" text-anchor="end" fill="#000" stroke="#000" stroke-width="0.22" textLength="23.7" lengthAdjust="spacingAndGlyphs">10,8</text>
<text x="250.58" y="551" font-family="'Liberation Serif', 'Times New Roman', serif" font-size="15" font-weight="normal" text-anchor="end" fill="#000" stroke="#000" stroke-width="0.08" textLength="15.38" lengthAdjust="spacingAndGlyphs">0,3</text>
<text x="237.41" y="571.5" font-family="'Liberation Serif', 'Times New Roman', serif" font-size="15.9" font-weight="normal" text-anchor="middle" fill="#000" stroke="#000" stroke-width="0.32" textLength="25.2" lengthAdjust="spacingAndGlyphs">16,4</text>
<text x="237.41" y="592.3" font-family="'Liberation Serif', 'Times New Roman', serif" font-size="15.9" font-weight="normal" text-anchor="middle" fill="#000" stroke="#000" stroke-width="0.32" textLength="18" lengthAdjust="spacingAndGlyphs">2,8</text>
<text x="250.38" y="613.3" font-family="'Liberation Sans', Arial, sans-serif" font-size="14.8" font-weight="normal" text-anchor="end" fill="#000" stroke="#000" stroke-width="0.22" textLength="16.9" lengthAdjust="spacingAndGlyphs">9,6</text>
<text x="281.32" y="551" font-family="'Liberation Serif', 'Times New Roman', serif" font-size="15" font-weight="normal" text-anchor="end" fill="#000" stroke="#000" stroke-width="0.08" textLength="15.38" lengthAdjust="spacingAndGlyphs">0,1</text>
<text x="268.15" y="571.5" font-family="'Liberation Serif', 'Times New Roman', serif" font-size="15.9" font-weight="normal" text-anchor="middle" fill="#000" stroke="#000" stroke-width="0.32" textLength="25.2" lengthAdjust="spacingAndGlyphs">20,3</text>
<text x="268.15" y="592.3" font-family="'Liberation Serif', 'Times New Roman', serif" font-size="15.9" font-weight="normal" text-anchor="middle" fill="#000" stroke="#000" stroke-width="0.32" textLength="18" lengthAdjust="spacingAndGlyphs">9,9</text>
<text x="281.12" y="613.3" font-family="'Liberation Sans', Arial, sans-serif" font-size="14.8" font-weight="normal" text-anchor="end" fill="#000" stroke="#000" stroke-width="0.22" textLength="23.7" lengthAdjust="spacingAndGlyphs">15,1</text>
<text x="312.06" y="551" font-family="'Liberation Serif', 'Times New Roman', serif" font-size="15" font-weight="normal" text-anchor="end" fill="#000" stroke="#000" stroke-width="0.08" textLength="21.53" lengthAdjust="spacingAndGlyphs">12,2</text>
<text x="298.89" y="571.5" font-family="'Liberation Serif', 'Times New Roman', serif" font-size="15.9" font-weight="normal" text-anchor="middle" fill="#000" stroke="#000" stroke-width="0.32" textLength="25.2" lengthAdjust="spacingAndGlyphs">17,0</text>
<text x="298.89" y="592.3" font-family="'Liberation Serif', 'Times New Roman', serif" font-size="15.9" font-weight="normal" text-anchor="middle" fill="#000" stroke="#000" stroke-width="0.32" textLength="18" lengthAdjust="spacingAndGlyphs">8,5</text>
<text x="311.86" y="613.3" font-family="'Liberation Sans', Arial, sans-serif" font-size="14.8" font-weight="normal" text-anchor="end" fill="#000" stroke="#000" stroke-width="0.22" textLength="23.7" lengthAdjust="spacingAndGlyphs">12,8</text>
<text x="342.8" y="551" font-family="'Liberation Serif', 'Times New Roman', serif" font-size="15" font-weight="normal" text-anchor="end" fill="#000" stroke="#000" stroke-width="0.08" textLength="15.38" lengthAdjust="spacingAndGlyphs">4,5</text>
<text x="329.63" y="571.5" font-family="'Liberation Serif', 'Times New Roman', serif" font-size="15.9" font-weight="normal" text-anchor="middle" fill="#000" stroke="#000" stroke-width="0.32" textLength="25.2" lengthAdjust="spacingAndGlyphs">16,4</text>
<text x="329.63" y="592.3" font-family="'Liberation Serif', 'Times New Roman', serif" font-size="15.9" font-weight="normal" text-anchor="middle" fill="#000" stroke="#000" stroke-width="0.32" textLength="25.2" lengthAdjust="spacingAndGlyphs">10,8</text>
<text x="342.6" y="613.3" font-family="'Liberation Sans', Arial, sans-serif" font-size="14.8" font-weight="normal" text-anchor="end" fill="#000" stroke="#000" stroke-width="0.22" textLength="23.7" lengthAdjust="spacingAndGlyphs">13,6</text>
<text x="373.54" y="551" font-family="'Liberation Serif', 'Times New Roman', serif" font-size="15" font-weight="normal" text-anchor="end" fill="#000" stroke="#000" stroke-width="0.08" textLength="15.38" lengthAdjust="spacingAndGlyphs">0,0</text>
<text x="360.37" y="571.5" font-family="'Liberation Serif', 'Times New Roman', serif" font-size="15.9" font-weight="normal" text-anchor="middle" fill="#000" stroke="#000" stroke-width="0.32" textLength="25.2" lengthAdjust="spacingAndGlyphs">19,2</text>
<text x="360.37" y="592.3" font-family="'Liberation Serif', 'Times New Roman', serif" font-size="15.9" font-weight="normal" text-anchor="middle" fill="#000" stroke="#000" stroke-width="0.32" textLength="18" lengthAdjust="spacingAndGlyphs">6,6</text>
<text x="373.34" y="613.3" font-family="'Liberation Sans', Arial, sans-serif" font-size="14.8" font-weight="normal" text-anchor="end" fill="#000" stroke="#000" stroke-width="0.22" textLength="23.7" lengthAdjust="spacingAndGlyphs">12,9</text>
<text x="404.28" y="551" font-family="'Liberation Serif', 'Times New Roman', serif" font-size="15" font-weight="normal" text-anchor="end" fill="#000" stroke="#000" stroke-width="0.08" textLength="15.38" lengthAdjust="spacingAndGlyphs">0,3</text>
<text x="391.11" y="571.5" font-family="'Liberation Serif', 'Times New Roman', serif" font-size="15.9" font-weight="normal" text-anchor="middle" fill="#000" stroke="#000" stroke-width="0.32" textLength="25.2" lengthAdjust="spacingAndGlyphs">19,5</text>
<text x="391.11" y="592.3" font-family="'Liberation Serif', 'Times New Roman', serif" font-size="15.9" font-weight="normal" text-anchor="middle" fill="#000" stroke="#000" stroke-width="0.32" textLength="18" lengthAdjust="spacingAndGlyphs">6,0</text>
<text x="404.08" y="613.3" font-family="'Liberation Sans', Arial, sans-serif" font-size="14.8" font-weight="normal" text-anchor="end" fill="#000" stroke="#000" stroke-width="0.22" textLength="23.7" lengthAdjust="spacingAndGlyphs">12,8</text>
<text x="435.02" y="551" font-family="'Liberation Serif', 'Times New Roman', serif" font-size="15" font-weight="normal" text-anchor="end" fill="#000" stroke="#000" stroke-width="0.08" textLength="15.38" lengthAdjust="spacingAndGlyphs">0,0</text>
<text x="421.85" y="571.5" font-family="'Liberation Serif', 'Times New Roman', serif" font-size="15.9" font-weight="normal" text-anchor="middle" fill="#000" stroke="#000" stroke-width="0.32" textLength="25.2" lengthAdjust="spacingAndGlyphs">21,4</text>
<text x="421.85" y="592.3" font-family="'Liberation Serif', 'Times New Roman', serif" font-size="15.9" font-weight="normal" text-anchor="middle" fill="#000" stroke="#000" stroke-width="0.32" textLength="25.2" lengthAdjust="spacingAndGlyphs">11,2</text>
<text x="434.82" y="613.3" font-family="'Liberation Sans', Arial, sans-serif" font-size="14.8" font-weight="normal" text-anchor="end" fill="#000" stroke="#000" stroke-width="0.22" textLength="23.7" lengthAdjust="spacingAndGlyphs">16,3</text>
<text x="465.76" y="551" font-family="'Liberation Serif', 'Times New Roman', serif" font-size="15" font-weight="normal" text-anchor="end" fill="#000" stroke="#000" stroke-width="0.08" textLength="15.38" lengthAdjust="spacingAndGlyphs">0,0</text>
<text x="452.59" y="571.5" font-family="'Liberation Serif', 'Times New Roman', serif" font-size="15.9" font-weight="normal" text-anchor="middle" fill="#000" stroke="#000" stroke-width="0.32" textLength="25.2" lengthAdjust="spacingAndGlyphs">23,8</text>
<text x="452.59" y="592.3" font-family="'Liberation Serif', 'Times New Roman', serif" font-size="15.9" font-weight="normal" text-anchor="middle" fill="#000" stroke="#000" stroke-width="0.32" textLength="25.2" lengthAdjust="spacingAndGlyphs">14,1</text>
<text x="465.56" y="613.3" font-family="'Liberation Sans', Arial, sans-serif" font-size="14.8" font-weight="normal" text-anchor="end" fill="#000" stroke="#000" stroke-width="0.22" textLength="23.7" lengthAdjust="spacingAndGlyphs">19,0</text>
<text x="496.5" y="551" font-family="'Liberation Serif', 'Times New Roman', serif" font-size="15" font-weight="normal" text-anchor="end" fill="#000" stroke="#000" stroke-width="0.08" textLength="15.38" lengthAdjust="spacingAndGlyphs">0,0</text>
<text x="483.33" y="571.5" font-family="'Liberation Serif', 'Times New Roman', serif" font-size="15.9" font-weight="normal" text-anchor="middle" fill="#000" stroke="#000" stroke-width="0.32" textLength="25.2" lengthAdjust="spacingAndGlyphs">18,9</text>
<text x="483.33" y="592.3" font-family="'Liberation Serif', 'Times New Roman', serif" font-size="15.9" font-weight="normal" text-anchor="middle" fill="#000" stroke="#000" stroke-width="0.32" textLength="25.2" lengthAdjust="spacingAndGlyphs">14,0</text>
<text x="496.3" y="613.3" font-family="'Liberation Sans', Arial, sans-serif" font-size="14.8" font-weight="normal" text-anchor="end" fill="#000" stroke="#000" stroke-width="0.22" textLength="23.7" lengthAdjust="spacingAndGlyphs">16,4</text>
<text x="527.24" y="551" font-family="'Liberation Serif', 'Times New Roman', serif" font-size="15" font-weight="normal" text-anchor="end" fill="#000" stroke="#000" stroke-width="0.08" textLength="15.38" lengthAdjust="spacingAndGlyphs">0,0</text>
<text x="514.07" y="571.5" font-family="'Liberation Serif', 'Times New Roman', serif" font-size="15.9" font-weight="normal" text-anchor="middle" fill="#000" stroke="#000" stroke-width="0.32" textLength="25.2" lengthAdjust="spacingAndGlyphs">19,5</text>
<text x="514.07" y="592.3" font-family="'Liberation Serif', 'Times New Roman', serif" font-size="15.9" font-weight="normal" text-anchor="middle" fill="#000" stroke="#000" stroke-width="0.32" textLength="25.2" lengthAdjust="spacingAndGlyphs">10,8</text>
<text x="527.04" y="613.3" font-family="'Liberation Sans', Arial, sans-serif" font-size="14.8" font-weight="normal" text-anchor="end" fill="#000" stroke="#000" stroke-width="0.22" textLength="23.7" lengthAdjust="spacingAndGlyphs">15,2</text>
<text x="557.98" y="551" font-family="'Liberation Serif', 'Times New Roman', serif" font-size="15" font-weight="normal" text-anchor="end" fill="#000" stroke="#000" stroke-width="0.08" textLength="15.38" lengthAdjust="spacingAndGlyphs">0,0</text>
<text x="544.81" y="571.5" font-family="'Liberation Serif', 'Times New Roman', serif" font-size="15.9" font-weight="normal" text-anchor="middle" fill="#000" stroke="#000" stroke-width="0.32" textLength="25.2" lengthAdjust="spacingAndGlyphs">27,5</text>
<text x="544.81" y="592.3" font-family="'Liberation Serif', 'Times New Roman', serif" font-size="15.9" font-weight="normal" text-anchor="middle" fill="#000" stroke="#000" stroke-width="0.32" textLength="25.2" lengthAdjust="spacingAndGlyphs">12,8</text>
<text x="557.78" y="613.3" font-family="'Liberation Sans', Arial, sans-serif" font-size="14.8" font-weight="normal" text-anchor="end" fill="#000" stroke="#000" stroke-width="0.22" textLength="23.7" lengthAdjust="spacingAndGlyphs">20,1</text>
<text x="588.72" y="551" font-family="'Liberation Serif', 'Times New Roman', serif" font-size="15" font-weight="normal" text-anchor="end" fill="#000" stroke="#000" stroke-width="0.08" textLength="15.38" lengthAdjust="spacingAndGlyphs">7,8</text>
<text x="575.55" y="571.5" font-family="'Liberation Serif', 'Times New Roman', serif" font-size="15.9" font-weight="normal" text-anchor="middle" fill="#000" stroke="#000" stroke-width="0.32" textLength="25.2" lengthAdjust="spacingAndGlyphs">19,2</text>
<text x="575.55" y="592.3" font-family="'Liberation Serif', 'Times New Roman', serif" font-size="15.9" font-weight="normal" text-anchor="middle" fill="#000" stroke="#000" stroke-width="0.32" textLength="25.2" lengthAdjust="spacingAndGlyphs">15,6</text>
<text x="588.52" y="613.3" font-family="'Liberation Sans', Arial, sans-serif" font-size="14.8" font-weight="normal" text-anchor="end" fill="#000" stroke="#000" stroke-width="0.22" textLength="23.7" lengthAdjust="spacingAndGlyphs">17,4</text>
<text x="619.46" y="551" font-family="'Liberation Serif', 'Times New Roman', serif" font-size="15" font-weight="normal" text-anchor="end" fill="#000" stroke="#000" stroke-width="0.08" textLength="21.53" lengthAdjust="spacingAndGlyphs">13,7</text>
<text x="606.29" y="571.5" font-family="'Liberation Serif', 'Times New Roman', serif" font-size="15.9" font-weight="normal" text-anchor="middle" fill="#000" stroke="#000" stroke-width="0.32" textLength="25.2" lengthAdjust="spacingAndGlyphs">22,5</text>
<text x="606.29" y="592.3" font-family="'Liberation Serif', 'Times New Roman', serif" font-size="15.9" font-weight="normal" text-anchor="middle" fill="#000" stroke="#000" stroke-width="0.32" textLength="25.2" lengthAdjust="spacingAndGlyphs">15,9</text>
<text x="619.26" y="613.3" font-family="'Liberation Sans', Arial, sans-serif" font-size="14.8" font-weight="normal" text-anchor="end" fill="#000" stroke="#000" stroke-width="0.22" textLength="23.7" lengthAdjust="spacingAndGlyphs">19,2</text>
<text x="650.2" y="551" font-family="'Liberation Serif', 'Times New Roman', serif" font-size="15" font-weight="normal" text-anchor="end" fill="#000" stroke="#000" stroke-width="0.08" textLength="15.38" lengthAdjust="spacingAndGlyphs">0,0</text>
<text x="637.03" y="571.5" font-family="'Liberation Serif', 'Times New Roman', serif" font-size="15.9" font-weight="normal" text-anchor="middle" fill="#000" stroke="#000" stroke-width="0.32" textLength="25.2" lengthAdjust="spacingAndGlyphs">23,4</text>
<text x="637.03" y="592.3" font-family="'Liberation Serif', 'Times New Roman', serif" font-size="15.9" font-weight="normal" text-anchor="middle" fill="#000" stroke="#000" stroke-width="0.32" textLength="25.2" lengthAdjust="spacingAndGlyphs">14,8</text>
<text x="650" y="613.3" font-family="'Liberation Sans', Arial, sans-serif" font-size="14.8" font-weight="normal" text-anchor="end" fill="#000" stroke="#000" stroke-width="0.22" textLength="23.7" lengthAdjust="spacingAndGlyphs">19,1</text>
<text x="680.94" y="551" font-family="'Liberation Serif', 'Times New Roman', serif" font-size="15" font-weight="normal" text-anchor="end" fill="#000" stroke="#000" stroke-width="0.08" textLength="15.38" lengthAdjust="spacingAndGlyphs">0,0</text>
<text x="667.77" y="571.5" font-family="'Liberation Serif', 'Times New Roman', serif" font-size="15.9" font-weight="normal" text-anchor="middle" fill="#000" stroke="#000" stroke-width="0.32" textLength="25.2" lengthAdjust="spacingAndGlyphs">25,9</text>
<text x="667.77" y="592.3" font-family="'Liberation Serif', 'Times New Roman', serif" font-size="15.9" font-weight="normal" text-anchor="middle" fill="#000" stroke="#000" stroke-width="0.32" textLength="25.2" lengthAdjust="spacingAndGlyphs">12,2</text>
<text x="680.74" y="613.3" font-family="'Liberation Sans', Arial, sans-serif" font-size="14.8" font-weight="normal" text-anchor="end" fill="#000" stroke="#000" stroke-width="0.22" textLength="23.7" lengthAdjust="spacingAndGlyphs">19,1</text>
<text x="711.68" y="551" font-family="'Liberation Serif', 'Times New Roman', serif" font-size="15" font-weight="normal" text-anchor="end" fill="#000" stroke="#000" stroke-width="0.08" textLength="15.38" lengthAdjust="spacingAndGlyphs">0,0</text>
<text x="698.51" y="571.5" font-family="'Liberation Serif', 'Times New Roman', serif" font-size="15.9" font-weight="normal" text-anchor="middle" fill="#000" stroke="#000" stroke-width="0.32" textLength="25.2" lengthAdjust="spacingAndGlyphs">27,1</text>
<text x="698.51" y="592.3" font-family="'Liberation Serif', 'Times New Roman', serif" font-size="15.9" font-weight="normal" text-anchor="middle" fill="#000" stroke="#000" stroke-width="0.32" textLength="25.2" lengthAdjust="spacingAndGlyphs">11,7</text>
<text x="711.48" y="613.3" font-family="'Liberation Sans', Arial, sans-serif" font-size="14.8" font-weight="normal" text-anchor="end" fill="#000" stroke="#000" stroke-width="0.22" textLength="23.7" lengthAdjust="spacingAndGlyphs">19,4</text>
<text x="742.42" y="551" font-family="'Liberation Serif', 'Times New Roman', serif" font-size="15" font-weight="normal" text-anchor="end" fill="#000" stroke="#000" stroke-width="0.08" textLength="15.38" lengthAdjust="spacingAndGlyphs">9,8</text>
<text x="729.25" y="571.5" font-family="'Liberation Serif', 'Times New Roman', serif" font-size="15.9" font-weight="normal" text-anchor="middle" fill="#000" stroke="#000" stroke-width="0.32" textLength="25.2" lengthAdjust="spacingAndGlyphs">24,7</text>
<text x="729.25" y="592.3" font-family="'Liberation Serif', 'Times New Roman', serif" font-size="15.9" font-weight="normal" text-anchor="middle" fill="#000" stroke="#000" stroke-width="0.32" textLength="25.2" lengthAdjust="spacingAndGlyphs">12,7</text>
<text x="742.22" y="613.3" font-family="'Liberation Sans', Arial, sans-serif" font-size="14.8" font-weight="normal" text-anchor="end" fill="#000" stroke="#000" stroke-width="0.22" textLength="23.7" lengthAdjust="spacingAndGlyphs">18,7</text>
<text x="773.16" y="551" font-family="'Liberation Serif', 'Times New Roman', serif" font-size="15" font-weight="normal" text-anchor="end" fill="#000" stroke="#000" stroke-width="0.08" textLength="15.38" lengthAdjust="spacingAndGlyphs">0,0</text>
<text x="759.99" y="571.5" font-family="'Liberation Serif', 'Times New Roman', serif" font-size="15.9" font-weight="normal" text-anchor="middle" fill="#000" stroke="#000" stroke-width="0.32" textLength="25.2" lengthAdjust="spacingAndGlyphs">24,8</text>
<text x="759.99" y="592.3" font-family="'Liberation Serif', 'Times New Roman', serif" font-size="15.9" font-weight="normal" text-anchor="middle" fill="#000" stroke="#000" stroke-width="0.32" textLength="25.2" lengthAdjust="spacingAndGlyphs">14,1</text>
<text x="772.96" y="613.3" font-family="'Liberation Sans', Arial, sans-serif" font-size="14.8" font-weight="normal" text-anchor="end" fill="#000" stroke="#000" stroke-width="0.22" textLength="23.7" lengthAdjust="spacingAndGlyphs">19,4</text>
<text x="803.9" y="551" font-family="'Liberation Serif', 'Times New Roman', serif" font-size="15" font-weight="normal" text-anchor="end" fill="#000" stroke="#000" stroke-width="0.08" textLength="15.38" lengthAdjust="spacingAndGlyphs">0,1</text>
<text x="790.73" y="571.5" font-family="'Liberation Serif', 'Times New Roman', serif" font-size="15.9" font-weight="normal" text-anchor="middle" fill="#000" stroke="#000" stroke-width="0.32" textLength="25.2" lengthAdjust="spacingAndGlyphs">21,3</text>
<text x="790.73" y="592.3" font-family="'Liberation Serif', 'Times New Roman', serif" font-size="15.9" font-weight="normal" text-anchor="middle" fill="#000" stroke="#000" stroke-width="0.32" textLength="25.2" lengthAdjust="spacingAndGlyphs">13,3</text>
<text x="803.7" y="613.3" font-family="'Liberation Sans', Arial, sans-serif" font-size="14.8" font-weight="normal" text-anchor="end" fill="#000" stroke="#000" stroke-width="0.22" textLength="23.7" lengthAdjust="spacingAndGlyphs">17,3</text>
<text x="834.64" y="551" font-family="'Liberation Serif', 'Times New Roman', serif" font-size="15" font-weight="normal" text-anchor="end" fill="#000" stroke="#000" stroke-width="0.08" textLength="15.38" lengthAdjust="spacingAndGlyphs">0,8</text>
<text x="821.47" y="571.5" font-family="'Liberation Serif', 'Times New Roman', serif" font-size="15.9" font-weight="normal" text-anchor="middle" fill="#000" stroke="#000" stroke-width="0.32" textLength="25.2" lengthAdjust="spacingAndGlyphs">18,6</text>
<text x="821.47" y="592.3" font-family="'Liberation Serif', 'Times New Roman', serif" font-size="15.9" font-weight="normal" text-anchor="middle" fill="#000" stroke="#000" stroke-width="0.32" textLength="25.2" lengthAdjust="spacingAndGlyphs">10,4</text>
<text x="834.44" y="613.3" font-family="'Liberation Sans', Arial, sans-serif" font-size="14.8" font-weight="normal" text-anchor="end" fill="#000" stroke="#000" stroke-width="0.22" textLength="23.7" lengthAdjust="spacingAndGlyphs">14,5</text>
<text x="865.38" y="551" font-family="'Liberation Serif', 'Times New Roman', serif" font-size="15" font-weight="normal" text-anchor="end" fill="#000" stroke="#000" stroke-width="0.08" textLength="15.38" lengthAdjust="spacingAndGlyphs">4,8</text>
<text x="852.21" y="571.5" font-family="'Liberation Serif', 'Times New Roman', serif" font-size="15.9" font-weight="normal" text-anchor="middle" fill="#000" stroke="#000" stroke-width="0.32" textLength="25.2" lengthAdjust="spacingAndGlyphs">18,6</text>
<text x="852.21" y="592.3" font-family="'Liberation Serif', 'Times New Roman', serif" font-size="15.9" font-weight="normal" text-anchor="middle" fill="#000" stroke="#000" stroke-width="0.32" textLength="25.2" lengthAdjust="spacingAndGlyphs">10,3</text>
<text x="865.18" y="613.3" font-family="'Liberation Sans', Arial, sans-serif" font-size="14.8" font-weight="normal" text-anchor="end" fill="#000" stroke="#000" stroke-width="0.22" textLength="23.7" lengthAdjust="spacingAndGlyphs">14,4</text>
<text x="896.12" y="551" font-family="'Liberation Serif', 'Times New Roman', serif" font-size="15" font-weight="normal" text-anchor="end" fill="#000" stroke="#000" stroke-width="0.08" textLength="15.38" lengthAdjust="spacingAndGlyphs">0,3</text>
<text x="882.95" y="571.5" font-family="'Liberation Serif', 'Times New Roman', serif" font-size="15.9" font-weight="normal" text-anchor="middle" fill="#000" stroke="#000" stroke-width="0.32" textLength="25.2" lengthAdjust="spacingAndGlyphs">15,5</text>
<text x="882.95" y="592.3" font-family="'Liberation Serif', 'Times New Roman', serif" font-size="15.9" font-weight="normal" text-anchor="middle" fill="#000" stroke="#000" stroke-width="0.32" textLength="25.2" lengthAdjust="spacingAndGlyphs">11,5</text>
<text x="895.92" y="613.3" font-family="'Liberation Sans', Arial, sans-serif" font-size="14.8" font-weight="normal" text-anchor="end" fill="#000" stroke="#000" stroke-width="0.22" textLength="23.7" lengthAdjust="spacingAndGlyphs">13,5</text>
<text x="926.86" y="551" font-family="'Liberation Serif', 'Times New Roman', serif" font-size="15" font-weight="normal" text-anchor="end" fill="#000" stroke="#000" stroke-width="0.08" textLength="15.38" lengthAdjust="spacingAndGlyphs">0,7</text>
<text x="913.69" y="571.5" font-family="'Liberation Serif', 'Times New Roman', serif" font-size="15.9" font-weight="normal" text-anchor="middle" fill="#000" stroke="#000" stroke-width="0.32" textLength="25.2" lengthAdjust="spacingAndGlyphs">15,7</text>
<text x="913.69" y="592.3" font-family="'Liberation Serif', 'Times New Roman', serif" font-size="15.9" font-weight="normal" text-anchor="middle" fill="#000" stroke="#000" stroke-width="0.32" textLength="25.2" lengthAdjust="spacingAndGlyphs">11,8</text>
<text x="926.66" y="613.3" font-family="'Liberation Sans', Arial, sans-serif" font-size="14.8" font-weight="normal" text-anchor="end" fill="#000" stroke="#000" stroke-width="0.22" textLength="23.7" lengthAdjust="spacingAndGlyphs">13,8</text>
<text x="957.6" y="551" font-family="'Liberation Serif', 'Times New Roman', serif" font-size="15" font-weight="normal" text-anchor="end" fill="#000" stroke="#000" stroke-width="0.08" textLength="15.38" lengthAdjust="spacingAndGlyphs">0,0</text>
<text x="944.43" y="571.5" font-family="'Liberation Serif', 'Times New Roman', serif" font-size="15.9" font-weight="normal" text-anchor="middle" fill="#000" stroke="#000" stroke-width="0.32" textLength="25.2" lengthAdjust="spacingAndGlyphs">20,9</text>
<text x="944.43" y="592.3" font-family="'Liberation Serif', 'Times New Roman', serif" font-size="15.9" font-weight="normal" text-anchor="middle" fill="#000" stroke="#000" stroke-width="0.32" textLength="25.2" lengthAdjust="spacingAndGlyphs">12,3</text>
<text x="957.4" y="613.3" font-family="'Liberation Sans', Arial, sans-serif" font-size="14.8" font-weight="normal" text-anchor="end" fill="#000" stroke="#000" stroke-width="0.22" textLength="23.7" lengthAdjust="spacingAndGlyphs">16,6</text>
<text x="988.34" y="551" font-family="'Liberation Serif', 'Times New Roman', serif" font-size="15" font-weight="normal" text-anchor="end" fill="#000" stroke="#000" stroke-width="0.08" textLength="15.38" lengthAdjust="spacingAndGlyphs">0,0</text>
<text x="975.17" y="571.5" font-family="'Liberation Serif', 'Times New Roman', serif" font-size="15.9" font-weight="normal" text-anchor="middle" fill="#000" stroke="#000" stroke-width="0.32" textLength="25.2" lengthAdjust="spacingAndGlyphs">21,3</text>
<text x="975.17" y="592.3" font-family="'Liberation Serif', 'Times New Roman', serif" font-size="15.9" font-weight="normal" text-anchor="middle" fill="#000" stroke="#000" stroke-width="0.32" textLength="25.2" lengthAdjust="spacingAndGlyphs">10,3</text>
<text x="988.14" y="613.3" font-family="'Liberation Sans', Arial, sans-serif" font-size="14.8" font-weight="normal" text-anchor="end" fill="#000" stroke="#000" stroke-width="0.22" textLength="23.7" lengthAdjust="spacingAndGlyphs">15,8</text>
<text transform="translate(34.2,678.3) rotate(-90)" font-family="'Liberation Sans', Arial, sans-serif" font-size="12.4" font-weight="bold" text-anchor="middle" textLength="43" lengthAdjust="spacing">Wetter</text>
<text transform="translate(34.6,740) rotate(-90)" font-family="'Liberation Sans', Arial, sans-serif" font-size="11.6" font-weight="bold" text-anchor="middle" textLength="37.5" lengthAdjust="spacingAndGlyphs">Schnee</text>
<text x="120.4" y="778.6" font-family="'Liberation Serif', 'Times New Roman', serif" font-size="16.5" font-weight="normal" text-anchor="start" fill="#000" stroke="#000" stroke-width="0.32" textLength="435" lengthAdjust="spacingAndGlyphs" style="white-space:pre">Datenerfassung:  Standort -  95496  Glashütten, Altenhimmelstr. 37</text>
<text x="1161.5" y="778.6" font-family="'Liberation Sans', Arial, sans-serif" font-size="16" font-weight="normal" text-anchor="end" fill="#000" stroke="#000" stroke-width="0.22" textLength="415" lengthAdjust="spacingAndGlyphs" style="white-space:pre">Koordinaten:  49° 52' 48' Nord,   11° 27' 04'' Ost   440 m ü. NN</text>
</svg></body></html>
